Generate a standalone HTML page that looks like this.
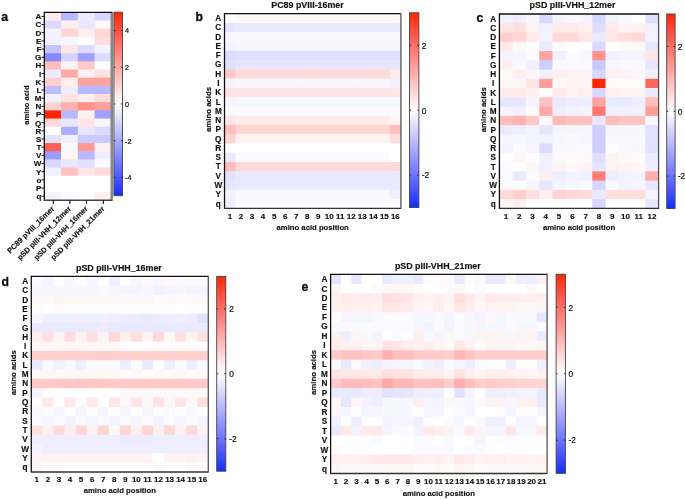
<!DOCTYPE html>
<html><head><meta charset="utf-8"><style>
html,body{margin:0;padding:0;background:#fff;}
body{width:685px;height:499px;overflow:hidden;}
svg{display:block;will-change:transform;filter:blur(0.3px);}
svg text{font-family:"Liberation Sans", sans-serif;fill:#111;stroke:#111;stroke-width:0.15px;}
</style></head><body>
<svg width="685" height="499" viewBox="0 0 685 499">
<rect x="0" y="0" width="685" height="499" fill="#fff"/>
<rect x="44.30" y="12.30" width="17.45" height="8.87" fill="#ffebeb"/>
<rect x="61.05" y="12.30" width="17.45" height="8.87" fill="#b8b8ff"/>
<rect x="77.80" y="12.30" width="17.45" height="8.87" fill="#ececff"/>
<rect x="94.55" y="12.30" width="16.75" height="8.87" fill="#d7d7ff"/>
<rect x="44.30" y="20.47" width="17.45" height="8.87" fill="#dcdbff"/>
<rect x="61.05" y="20.47" width="17.45" height="8.87" fill="#ffeeee"/>
<rect x="77.80" y="20.47" width="17.45" height="8.87" fill="#e8e7ff"/>
<rect x="94.55" y="20.47" width="16.75" height="8.87" fill="#fff8f8"/>
<rect x="44.30" y="28.65" width="17.45" height="8.87" fill="#f3f3ff"/>
<rect x="61.05" y="28.65" width="17.45" height="8.87" fill="#ffd5d5"/>
<rect x="77.80" y="28.65" width="17.45" height="8.87" fill="#ffeeee"/>
<rect x="94.55" y="28.65" width="16.75" height="8.87" fill="#ffd5d5"/>
<rect x="44.30" y="36.82" width="17.45" height="8.87" fill="#f1f1ff"/>
<rect x="61.05" y="36.82" width="17.45" height="8.87" fill="#f6f6ff"/>
<rect x="77.80" y="36.82" width="17.45" height="8.87" fill="#fffdfd"/>
<rect x="94.55" y="36.82" width="16.75" height="8.87" fill="#ffdddc"/>
<rect x="44.30" y="45.00" width="17.45" height="8.87" fill="#c4c4ff"/>
<rect x="61.05" y="45.00" width="17.45" height="8.87" fill="#ffe6e6"/>
<rect x="77.80" y="45.00" width="17.45" height="8.87" fill="#dcdbff"/>
<rect x="94.55" y="45.00" width="16.75" height="8.87" fill="#f1f1ff"/>
<rect x="44.30" y="53.17" width="17.45" height="8.87" fill="#8588ff"/>
<rect x="61.05" y="53.17" width="17.45" height="8.87" fill="#d5d4ff"/>
<rect x="77.80" y="53.17" width="17.45" height="8.87" fill="#9fa0ff"/>
<rect x="94.55" y="53.17" width="16.75" height="8.87" fill="#dcdbff"/>
<rect x="44.30" y="61.34" width="17.45" height="8.87" fill="#ffbdbb"/>
<rect x="61.05" y="61.34" width="17.45" height="8.87" fill="#fff3f3"/>
<rect x="77.80" y="61.34" width="17.45" height="8.87" fill="#ffc9c8"/>
<rect x="94.55" y="61.34" width="16.75" height="8.87" fill="#ffffff"/>
<rect x="44.30" y="69.52" width="17.45" height="8.87" fill="#ececff"/>
<rect x="61.05" y="69.52" width="17.45" height="8.87" fill="#ffa9a6"/>
<rect x="77.80" y="69.52" width="17.45" height="8.87" fill="#fff0f0"/>
<rect x="94.55" y="69.52" width="16.75" height="8.87" fill="#ffe2e1"/>
<rect x="44.30" y="77.69" width="17.45" height="8.87" fill="#ffcecd"/>
<rect x="61.05" y="77.69" width="17.45" height="8.87" fill="#ffeeee"/>
<rect x="77.80" y="77.69" width="17.45" height="8.87" fill="#ffa29e"/>
<rect x="94.55" y="77.69" width="16.75" height="8.87" fill="#ffa29e"/>
<rect x="44.30" y="85.87" width="17.45" height="8.87" fill="#bdbdff"/>
<rect x="61.05" y="85.87" width="17.45" height="8.87" fill="#efeeff"/>
<rect x="77.80" y="85.87" width="17.45" height="8.87" fill="#b8b8ff"/>
<rect x="94.55" y="85.87" width="16.75" height="8.87" fill="#b8b8ff"/>
<rect x="44.30" y="94.04" width="17.45" height="8.87" fill="#f3f3ff"/>
<rect x="61.05" y="94.04" width="17.45" height="8.87" fill="#ffe2e1"/>
<rect x="77.80" y="94.04" width="17.45" height="8.87" fill="#ffeeee"/>
<rect x="94.55" y="94.04" width="16.75" height="8.87" fill="#ffdada"/>
<rect x="44.30" y="102.21" width="17.45" height="8.87" fill="#ffd3d2"/>
<rect x="61.05" y="102.21" width="17.45" height="8.87" fill="#ffb1ae"/>
<rect x="77.80" y="102.21" width="17.45" height="8.87" fill="#ff918b"/>
<rect x="94.55" y="102.21" width="16.75" height="8.87" fill="#ff9d99"/>
<rect x="44.30" y="110.39" width="17.45" height="8.87" fill="#ff2600"/>
<rect x="61.05" y="110.39" width="17.45" height="8.87" fill="#b8b8ff"/>
<rect x="77.80" y="110.39" width="17.45" height="8.87" fill="#fff0f0"/>
<rect x="94.55" y="110.39" width="16.75" height="8.87" fill="#9fa0ff"/>
<rect x="44.30" y="118.56" width="17.45" height="8.87" fill="#ffdada"/>
<rect x="61.05" y="118.56" width="17.45" height="8.87" fill="#e8e7ff"/>
<rect x="77.80" y="118.56" width="17.45" height="8.87" fill="#ffe6e6"/>
<rect x="94.55" y="118.56" width="16.75" height="8.87" fill="#f6f6ff"/>
<rect x="44.30" y="126.73" width="17.45" height="8.87" fill="#ffffff"/>
<rect x="61.05" y="126.73" width="17.45" height="8.87" fill="#abacff"/>
<rect x="77.80" y="126.73" width="17.45" height="8.87" fill="#e8e7ff"/>
<rect x="94.55" y="126.73" width="16.75" height="8.87" fill="#dcdbff"/>
<rect x="44.30" y="134.91" width="17.45" height="8.87" fill="#e3e3ff"/>
<rect x="61.05" y="134.91" width="17.45" height="8.87" fill="#f1f1ff"/>
<rect x="77.80" y="134.91" width="17.45" height="8.87" fill="#cbcbff"/>
<rect x="94.55" y="134.91" width="16.75" height="8.87" fill="#cbcbff"/>
<rect x="44.30" y="143.08" width="17.45" height="8.87" fill="#ff6053"/>
<rect x="61.05" y="143.08" width="17.45" height="8.87" fill="#fafaff"/>
<rect x="77.80" y="143.08" width="17.45" height="8.87" fill="#ff9894"/>
<rect x="94.55" y="143.08" width="16.75" height="8.87" fill="#fff0f0"/>
<rect x="44.30" y="151.26" width="17.45" height="8.87" fill="#9a9bff"/>
<rect x="61.05" y="151.26" width="17.45" height="8.87" fill="#fff3f3"/>
<rect x="77.80" y="151.26" width="17.45" height="8.87" fill="#b8b8ff"/>
<rect x="94.55" y="151.26" width="16.75" height="8.87" fill="#efeeff"/>
<rect x="44.30" y="159.43" width="17.45" height="8.87" fill="#d7d7ff"/>
<rect x="61.05" y="159.43" width="17.45" height="8.87" fill="#e8e7ff"/>
<rect x="77.80" y="159.43" width="17.45" height="8.87" fill="#e1e0ff"/>
<rect x="94.55" y="159.43" width="16.75" height="8.87" fill="#fafaff"/>
<rect x="44.30" y="167.60" width="17.45" height="8.87" fill="#f1f1ff"/>
<rect x="61.05" y="167.60" width="17.45" height="8.87" fill="#ffc2c0"/>
<rect x="77.80" y="167.60" width="17.45" height="8.87" fill="#ffe6e6"/>
<rect x="94.55" y="167.60" width="16.75" height="8.87" fill="#ffdada"/>
<rect x="44.30" y="175.78" width="17.45" height="8.87" fill="#ffffff"/>
<rect x="61.05" y="175.78" width="17.45" height="8.87" fill="#ffffff"/>
<rect x="77.80" y="175.78" width="17.45" height="8.87" fill="#ffffff"/>
<rect x="94.55" y="175.78" width="16.75" height="8.87" fill="#ffffff"/>
<rect x="44.30" y="183.95" width="17.45" height="8.87" fill="#ffffff"/>
<rect x="61.05" y="183.95" width="17.45" height="8.87" fill="#ffffff"/>
<rect x="77.80" y="183.95" width="17.45" height="8.87" fill="#ffffff"/>
<rect x="94.55" y="183.95" width="16.75" height="8.87" fill="#ffffff"/>
<rect x="44.30" y="192.13" width="17.45" height="8.17" fill="#f3f3ff"/>
<rect x="61.05" y="192.13" width="17.45" height="8.17" fill="#fafaff"/>
<rect x="77.80" y="192.13" width="17.45" height="8.17" fill="#ffffff"/>
<rect x="94.55" y="192.13" width="16.75" height="8.17" fill="#ffeeee"/>
<rect x="110.5" y="11.80" width="2.5" height="189.20" fill="#888"/>
<line x1="44.30" y1="12.30" x2="112.00" y2="12.30" stroke="#111" stroke-width="1.3"/>
<line x1="44.30" y1="11.70" x2="44.30" y2="200.90" stroke="#111" stroke-width="1.3"/>
<line x1="112.00" y1="11.70" x2="112.00" y2="200.90" stroke="#888" stroke-width="0.01"/>
<line x1="44.30" y1="200.30" x2="112.00" y2="200.30" stroke="#444" stroke-width="1.40"/>
<line x1="41.50" y1="16.39" x2="44.30" y2="16.39" stroke="#111" stroke-width="1"/>
<text x="41.30" y="16.79" font-size="8" font-weight="bold" text-anchor="end" dominant-baseline="central">A</text>
<line x1="41.50" y1="24.56" x2="44.30" y2="24.56" stroke="#111" stroke-width="1"/>
<text x="41.30" y="24.96" font-size="8" font-weight="bold" text-anchor="end" dominant-baseline="central">C</text>
<line x1="41.50" y1="32.73" x2="44.30" y2="32.73" stroke="#111" stroke-width="1"/>
<text x="41.30" y="33.13" font-size="8" font-weight="bold" text-anchor="end" dominant-baseline="central">D</text>
<line x1="41.50" y1="40.91" x2="44.30" y2="40.91" stroke="#111" stroke-width="1"/>
<text x="41.30" y="41.31" font-size="8" font-weight="bold" text-anchor="end" dominant-baseline="central">E</text>
<line x1="41.50" y1="49.08" x2="44.30" y2="49.08" stroke="#111" stroke-width="1"/>
<text x="41.30" y="49.48" font-size="8" font-weight="bold" text-anchor="end" dominant-baseline="central">F</text>
<line x1="41.50" y1="57.26" x2="44.30" y2="57.26" stroke="#111" stroke-width="1"/>
<text x="41.30" y="57.66" font-size="8" font-weight="bold" text-anchor="end" dominant-baseline="central">G</text>
<line x1="41.50" y1="65.43" x2="44.30" y2="65.43" stroke="#111" stroke-width="1"/>
<text x="41.30" y="65.83" font-size="8" font-weight="bold" text-anchor="end" dominant-baseline="central">H</text>
<line x1="41.50" y1="73.60" x2="44.30" y2="73.60" stroke="#111" stroke-width="1"/>
<text x="41.30" y="74.00" font-size="8" font-weight="bold" text-anchor="end" dominant-baseline="central">I</text>
<line x1="41.50" y1="81.78" x2="44.30" y2="81.78" stroke="#111" stroke-width="1"/>
<text x="41.30" y="82.18" font-size="8" font-weight="bold" text-anchor="end" dominant-baseline="central">K</text>
<line x1="41.50" y1="89.95" x2="44.30" y2="89.95" stroke="#111" stroke-width="1"/>
<text x="41.30" y="90.35" font-size="8" font-weight="bold" text-anchor="end" dominant-baseline="central">L</text>
<line x1="41.50" y1="98.13" x2="44.30" y2="98.13" stroke="#111" stroke-width="1"/>
<text x="41.30" y="98.53" font-size="8" font-weight="bold" text-anchor="end" dominant-baseline="central">M</text>
<line x1="41.50" y1="106.30" x2="44.30" y2="106.30" stroke="#111" stroke-width="1"/>
<text x="41.30" y="106.70" font-size="8" font-weight="bold" text-anchor="end" dominant-baseline="central">N</text>
<line x1="41.50" y1="114.47" x2="44.30" y2="114.47" stroke="#111" stroke-width="1"/>
<text x="41.30" y="114.87" font-size="8" font-weight="bold" text-anchor="end" dominant-baseline="central">P</text>
<line x1="41.50" y1="122.65" x2="44.30" y2="122.65" stroke="#111" stroke-width="1"/>
<text x="41.30" y="123.05" font-size="8" font-weight="bold" text-anchor="end" dominant-baseline="central">Q</text>
<line x1="41.50" y1="130.82" x2="44.30" y2="130.82" stroke="#111" stroke-width="1"/>
<text x="41.30" y="131.22" font-size="8" font-weight="bold" text-anchor="end" dominant-baseline="central">R</text>
<line x1="41.50" y1="139.00" x2="44.30" y2="139.00" stroke="#111" stroke-width="1"/>
<text x="41.30" y="139.40" font-size="8" font-weight="bold" text-anchor="end" dominant-baseline="central">S</text>
<line x1="41.50" y1="147.17" x2="44.30" y2="147.17" stroke="#111" stroke-width="1"/>
<text x="41.30" y="147.57" font-size="8" font-weight="bold" text-anchor="end" dominant-baseline="central">T</text>
<line x1="41.50" y1="155.34" x2="44.30" y2="155.34" stroke="#111" stroke-width="1"/>
<text x="41.30" y="155.74" font-size="8" font-weight="bold" text-anchor="end" dominant-baseline="central">V</text>
<line x1="41.50" y1="163.52" x2="44.30" y2="163.52" stroke="#111" stroke-width="1"/>
<text x="41.30" y="163.92" font-size="8" font-weight="bold" text-anchor="end" dominant-baseline="central">W</text>
<line x1="41.50" y1="171.69" x2="44.30" y2="171.69" stroke="#111" stroke-width="1"/>
<text x="41.30" y="172.09" font-size="8" font-weight="bold" text-anchor="end" dominant-baseline="central">Y</text>
<line x1="41.50" y1="179.87" x2="44.30" y2="179.87" stroke="#111" stroke-width="1"/>
<text x="41.30" y="180.27" font-size="8" font-weight="bold" text-anchor="end" dominant-baseline="central">o</text>
<line x1="41.50" y1="188.04" x2="44.30" y2="188.04" stroke="#111" stroke-width="1"/>
<text x="41.30" y="188.44" font-size="8" font-weight="bold" text-anchor="end" dominant-baseline="central">P</text>
<line x1="41.50" y1="196.21" x2="44.30" y2="196.21" stroke="#111" stroke-width="1"/>
<text x="41.30" y="196.61" font-size="8" font-weight="bold" text-anchor="end" dominant-baseline="central">q</text>
<line x1="53.30" y1="200.30" x2="53.30" y2="203.90" stroke="#111" stroke-width="1.15"/>
<line x1="69.90" y1="200.30" x2="69.90" y2="203.90" stroke="#111" stroke-width="1.15"/>
<line x1="86.50" y1="200.30" x2="86.50" y2="203.90" stroke="#111" stroke-width="1.15"/>
<line x1="103.40" y1="200.30" x2="103.40" y2="203.90" stroke="#111" stroke-width="1.15"/>
<text transform="translate(52.97,207.50) rotate(-45)" font-size="7.5" font-weight="bold" text-anchor="end" dominant-baseline="central">PC89 pVIII_16mer</text>
<text transform="translate(69.72,207.50) rotate(-45)" font-size="7.5" font-weight="bold" text-anchor="end" dominant-baseline="central">pSD pIII-VHH_12mer</text>
<text transform="translate(86.47,207.50) rotate(-45)" font-size="7.5" font-weight="bold" text-anchor="end" dominant-baseline="central">pSD pIII-VHH_16mer</text>
<text transform="translate(103.22,207.50) rotate(-45)" font-size="7.5" font-weight="bold" text-anchor="end" dominant-baseline="central">pSD pIII-VHH_21mer</text>
<text transform="translate(26.1,105.1) rotate(-90)" font-size="7.5" font-weight="bold" text-anchor="middle" dominant-baseline="central">amino acid</text>
<defs><linearGradient id="ga" x1="0" y1="0" x2="0" y2="1">
<stop offset="0.000" stop-color="#ff2600"/>
<stop offset="0.050" stop-color="#ff3c24"/>
<stop offset="0.100" stop-color="#ff5141"/>
<stop offset="0.150" stop-color="#ff675c"/>
<stop offset="0.200" stop-color="#ff7d75"/>
<stop offset="0.250" stop-color="#ff928d"/>
<stop offset="0.300" stop-color="#ffa8a5"/>
<stop offset="0.350" stop-color="#ffbebc"/>
<stop offset="0.400" stop-color="#ffd4d3"/>
<stop offset="0.450" stop-color="#ffe9e9"/>
<stop offset="0.500" stop-color="#ffffff"/>
<stop offset="0.550" stop-color="#eaeaff"/>
<stop offset="0.600" stop-color="#d6d5ff"/>
<stop offset="0.650" stop-color="#c0c0ff"/>
<stop offset="0.700" stop-color="#aaabff"/>
<stop offset="0.750" stop-color="#9496ff"/>
<stop offset="0.800" stop-color="#7d81ff"/>
<stop offset="0.850" stop-color="#656cff"/>
<stop offset="0.900" stop-color="#4c57ff"/>
<stop offset="0.950" stop-color="#3142ff"/>
<stop offset="1.000" stop-color="#0f2dff"/>
</linearGradient></defs>
<rect x="113.90" y="12.20" width="8.60" height="183.50" fill="url(#ga)" stroke="#444" stroke-width="0.9"/>
<line x1="113.90" y1="30.55" x2="115.50" y2="30.55" stroke="#222" stroke-width="0.9"/>
<line x1="120.90" y1="30.55" x2="122.50" y2="30.55" stroke="#222" stroke-width="0.9"/>
<text x="125.10" y="30.90" font-size="7.20" dominant-baseline="central" style="stroke-width:0.22px">4</text>
<line x1="113.90" y1="67.25" x2="115.50" y2="67.25" stroke="#222" stroke-width="0.9"/>
<line x1="120.90" y1="67.25" x2="122.50" y2="67.25" stroke="#222" stroke-width="0.9"/>
<text x="125.10" y="67.60" font-size="7.20" dominant-baseline="central" style="stroke-width:0.22px">2</text>
<line x1="113.90" y1="103.95" x2="115.50" y2="103.95" stroke="#222" stroke-width="0.9"/>
<line x1="120.90" y1="103.95" x2="122.50" y2="103.95" stroke="#222" stroke-width="0.9"/>
<text x="125.10" y="104.30" font-size="7.20" dominant-baseline="central" style="stroke-width:0.22px">0</text>
<line x1="113.90" y1="140.65" x2="115.50" y2="140.65" stroke="#222" stroke-width="0.9"/>
<line x1="120.90" y1="140.65" x2="122.50" y2="140.65" stroke="#222" stroke-width="0.9"/>
<text x="125.10" y="141.00" font-size="7.20" dominant-baseline="central" style="stroke-width:0.22px">-2</text>
<line x1="113.90" y1="177.35" x2="115.50" y2="177.35" stroke="#222" stroke-width="0.9"/>
<line x1="120.90" y1="177.35" x2="122.50" y2="177.35" stroke="#222" stroke-width="0.9"/>
<text x="125.10" y="177.70" font-size="7.20" dominant-baseline="central" style="stroke-width:0.22px">-4</text>
<text x="1.2" y="20.8" font-size="12.2" font-weight="bold" style="stroke-width:0.35px">a</text>
<rect x="224.50" y="13.60" width="11.72" height="9.97" fill="#ffffff"/>
<rect x="235.53" y="13.60" width="11.72" height="9.97" fill="#fff8f8"/>
<rect x="246.55" y="13.60" width="11.72" height="9.97" fill="#fff8f8"/>
<rect x="257.57" y="13.60" width="11.72" height="9.97" fill="#fff8f8"/>
<rect x="268.60" y="13.60" width="11.72" height="9.97" fill="#fff8f8"/>
<rect x="279.62" y="13.60" width="11.72" height="9.97" fill="#fff8f8"/>
<rect x="290.65" y="13.60" width="11.72" height="9.97" fill="#fff8f8"/>
<rect x="301.67" y="13.60" width="11.72" height="9.97" fill="#fff8f8"/>
<rect x="312.70" y="13.60" width="11.72" height="9.97" fill="#fff8f8"/>
<rect x="323.73" y="13.60" width="11.72" height="9.97" fill="#fff8f8"/>
<rect x="334.75" y="13.60" width="11.72" height="9.97" fill="#fff8f8"/>
<rect x="345.77" y="13.60" width="11.72" height="9.97" fill="#fff8f8"/>
<rect x="356.80" y="13.60" width="11.72" height="9.97" fill="#fff8f8"/>
<rect x="367.82" y="13.60" width="11.72" height="9.97" fill="#fff8f8"/>
<rect x="378.85" y="13.60" width="11.72" height="9.97" fill="#fff8f8"/>
<rect x="389.88" y="13.60" width="11.02" height="9.97" fill="#fff6f6"/>
<rect x="224.50" y="22.87" width="11.72" height="9.97" fill="#e4e4ff"/>
<rect x="235.53" y="22.87" width="11.72" height="9.97" fill="#eaeaff"/>
<rect x="246.55" y="22.87" width="11.72" height="9.97" fill="#eaeaff"/>
<rect x="257.57" y="22.87" width="11.72" height="9.97" fill="#eaeaff"/>
<rect x="268.60" y="22.87" width="11.72" height="9.97" fill="#eaeaff"/>
<rect x="279.62" y="22.87" width="11.72" height="9.97" fill="#eaeaff"/>
<rect x="290.65" y="22.87" width="11.72" height="9.97" fill="#eaeaff"/>
<rect x="301.67" y="22.87" width="11.72" height="9.97" fill="#eaeaff"/>
<rect x="312.70" y="22.87" width="11.72" height="9.97" fill="#eaeaff"/>
<rect x="323.73" y="22.87" width="11.72" height="9.97" fill="#eaeaff"/>
<rect x="334.75" y="22.87" width="11.72" height="9.97" fill="#eaeaff"/>
<rect x="345.77" y="22.87" width="11.72" height="9.97" fill="#eaeaff"/>
<rect x="356.80" y="22.87" width="11.72" height="9.97" fill="#eaeaff"/>
<rect x="367.82" y="22.87" width="11.72" height="9.97" fill="#eaeaff"/>
<rect x="378.85" y="22.87" width="11.72" height="9.97" fill="#eaeaff"/>
<rect x="389.88" y="22.87" width="11.02" height="9.97" fill="#eaeaff"/>
<rect x="224.50" y="32.14" width="11.72" height="9.97" fill="#f7f7ff"/>
<rect x="235.53" y="32.14" width="11.72" height="9.97" fill="#f9f9ff"/>
<rect x="246.55" y="32.14" width="11.72" height="9.97" fill="#f9f9ff"/>
<rect x="257.57" y="32.14" width="11.72" height="9.97" fill="#f9f9ff"/>
<rect x="268.60" y="32.14" width="11.72" height="9.97" fill="#f9f9ff"/>
<rect x="279.62" y="32.14" width="11.72" height="9.97" fill="#f9f9ff"/>
<rect x="290.65" y="32.14" width="11.72" height="9.97" fill="#f9f9ff"/>
<rect x="301.67" y="32.14" width="11.72" height="9.97" fill="#f9f9ff"/>
<rect x="312.70" y="32.14" width="11.72" height="9.97" fill="#f9f9ff"/>
<rect x="323.73" y="32.14" width="11.72" height="9.97" fill="#f9f9ff"/>
<rect x="334.75" y="32.14" width="11.72" height="9.97" fill="#f9f9ff"/>
<rect x="345.77" y="32.14" width="11.72" height="9.97" fill="#f9f9ff"/>
<rect x="356.80" y="32.14" width="11.72" height="9.97" fill="#f9f9ff"/>
<rect x="367.82" y="32.14" width="11.72" height="9.97" fill="#f9f9ff"/>
<rect x="378.85" y="32.14" width="11.72" height="9.97" fill="#f9f9ff"/>
<rect x="389.88" y="32.14" width="11.02" height="9.97" fill="#f9f9ff"/>
<rect x="224.50" y="41.41" width="11.72" height="9.97" fill="#f3f2ff"/>
<rect x="235.53" y="41.41" width="11.72" height="9.97" fill="#f7f7ff"/>
<rect x="246.55" y="41.41" width="11.72" height="9.97" fill="#f7f7ff"/>
<rect x="257.57" y="41.41" width="11.72" height="9.97" fill="#f7f7ff"/>
<rect x="268.60" y="41.41" width="11.72" height="9.97" fill="#f7f7ff"/>
<rect x="279.62" y="41.41" width="11.72" height="9.97" fill="#f7f7ff"/>
<rect x="290.65" y="41.41" width="11.72" height="9.97" fill="#f7f7ff"/>
<rect x="301.67" y="41.41" width="11.72" height="9.97" fill="#f7f7ff"/>
<rect x="312.70" y="41.41" width="11.72" height="9.97" fill="#f7f7ff"/>
<rect x="323.73" y="41.41" width="11.72" height="9.97" fill="#f7f7ff"/>
<rect x="334.75" y="41.41" width="11.72" height="9.97" fill="#f7f7ff"/>
<rect x="345.77" y="41.41" width="11.72" height="9.97" fill="#f7f7ff"/>
<rect x="356.80" y="41.41" width="11.72" height="9.97" fill="#f7f7ff"/>
<rect x="367.82" y="41.41" width="11.72" height="9.97" fill="#f7f7ff"/>
<rect x="378.85" y="41.41" width="11.72" height="9.97" fill="#f7f7ff"/>
<rect x="389.88" y="41.41" width="11.02" height="9.97" fill="#f7f7ff"/>
<rect x="224.50" y="50.69" width="11.72" height="9.97" fill="#dcdbff"/>
<rect x="235.53" y="50.69" width="11.72" height="9.97" fill="#e0e0ff"/>
<rect x="246.55" y="50.69" width="11.72" height="9.97" fill="#e0e0ff"/>
<rect x="257.57" y="50.69" width="11.72" height="9.97" fill="#e0e0ff"/>
<rect x="268.60" y="50.69" width="11.72" height="9.97" fill="#e0e0ff"/>
<rect x="279.62" y="50.69" width="11.72" height="9.97" fill="#e0e0ff"/>
<rect x="290.65" y="50.69" width="11.72" height="9.97" fill="#e0e0ff"/>
<rect x="301.67" y="50.69" width="11.72" height="9.97" fill="#e0e0ff"/>
<rect x="312.70" y="50.69" width="11.72" height="9.97" fill="#e0e0ff"/>
<rect x="323.73" y="50.69" width="11.72" height="9.97" fill="#e0e0ff"/>
<rect x="334.75" y="50.69" width="11.72" height="9.97" fill="#e0e0ff"/>
<rect x="345.77" y="50.69" width="11.72" height="9.97" fill="#e0e0ff"/>
<rect x="356.80" y="50.69" width="11.72" height="9.97" fill="#e0e0ff"/>
<rect x="367.82" y="50.69" width="11.72" height="9.97" fill="#e0e0ff"/>
<rect x="378.85" y="50.69" width="11.72" height="9.97" fill="#e0e0ff"/>
<rect x="389.88" y="50.69" width="11.02" height="9.97" fill="#e0e0ff"/>
<rect x="224.50" y="59.96" width="11.72" height="9.97" fill="#e0e0ff"/>
<rect x="235.53" y="59.96" width="11.72" height="9.97" fill="#e6e6ff"/>
<rect x="246.55" y="59.96" width="11.72" height="9.97" fill="#e6e6ff"/>
<rect x="257.57" y="59.96" width="11.72" height="9.97" fill="#e6e6ff"/>
<rect x="268.60" y="59.96" width="11.72" height="9.97" fill="#e6e6ff"/>
<rect x="279.62" y="59.96" width="11.72" height="9.97" fill="#e6e6ff"/>
<rect x="290.65" y="59.96" width="11.72" height="9.97" fill="#e6e6ff"/>
<rect x="301.67" y="59.96" width="11.72" height="9.97" fill="#e6e6ff"/>
<rect x="312.70" y="59.96" width="11.72" height="9.97" fill="#e6e6ff"/>
<rect x="323.73" y="59.96" width="11.72" height="9.97" fill="#e6e6ff"/>
<rect x="334.75" y="59.96" width="11.72" height="9.97" fill="#e6e6ff"/>
<rect x="345.77" y="59.96" width="11.72" height="9.97" fill="#e6e6ff"/>
<rect x="356.80" y="59.96" width="11.72" height="9.97" fill="#e6e6ff"/>
<rect x="367.82" y="59.96" width="11.72" height="9.97" fill="#e6e6ff"/>
<rect x="378.85" y="59.96" width="11.72" height="9.97" fill="#e6e6ff"/>
<rect x="389.88" y="59.96" width="11.02" height="9.97" fill="#e6e6ff"/>
<rect x="224.50" y="69.23" width="11.72" height="9.97" fill="#ffcbca"/>
<rect x="235.53" y="69.23" width="11.72" height="9.97" fill="#ffdada"/>
<rect x="246.55" y="69.23" width="11.72" height="9.97" fill="#ffdada"/>
<rect x="257.57" y="69.23" width="11.72" height="9.97" fill="#ffdada"/>
<rect x="268.60" y="69.23" width="11.72" height="9.97" fill="#ffdada"/>
<rect x="279.62" y="69.23" width="11.72" height="9.97" fill="#ffdada"/>
<rect x="290.65" y="69.23" width="11.72" height="9.97" fill="#ffdada"/>
<rect x="301.67" y="69.23" width="11.72" height="9.97" fill="#ffdada"/>
<rect x="312.70" y="69.23" width="11.72" height="9.97" fill="#ffdada"/>
<rect x="323.73" y="69.23" width="11.72" height="9.97" fill="#ffdada"/>
<rect x="334.75" y="69.23" width="11.72" height="9.97" fill="#ffdada"/>
<rect x="345.77" y="69.23" width="11.72" height="9.97" fill="#ffdada"/>
<rect x="356.80" y="69.23" width="11.72" height="9.97" fill="#ffdada"/>
<rect x="367.82" y="69.23" width="11.72" height="9.97" fill="#ffdada"/>
<rect x="378.85" y="69.23" width="11.72" height="9.97" fill="#ffdada"/>
<rect x="389.88" y="69.23" width="11.02" height="9.97" fill="#ffebeb"/>
<rect x="224.50" y="78.50" width="11.72" height="9.97" fill="#f5f4ff"/>
<rect x="235.53" y="78.50" width="11.72" height="9.97" fill="#f7f7ff"/>
<rect x="246.55" y="78.50" width="11.72" height="9.97" fill="#f7f7ff"/>
<rect x="257.57" y="78.50" width="11.72" height="9.97" fill="#f7f7ff"/>
<rect x="268.60" y="78.50" width="11.72" height="9.97" fill="#f7f7ff"/>
<rect x="279.62" y="78.50" width="11.72" height="9.97" fill="#f7f7ff"/>
<rect x="290.65" y="78.50" width="11.72" height="9.97" fill="#f7f7ff"/>
<rect x="301.67" y="78.50" width="11.72" height="9.97" fill="#f7f7ff"/>
<rect x="312.70" y="78.50" width="11.72" height="9.97" fill="#f7f7ff"/>
<rect x="323.73" y="78.50" width="11.72" height="9.97" fill="#f7f7ff"/>
<rect x="334.75" y="78.50" width="11.72" height="9.97" fill="#f7f7ff"/>
<rect x="345.77" y="78.50" width="11.72" height="9.97" fill="#f7f7ff"/>
<rect x="356.80" y="78.50" width="11.72" height="9.97" fill="#f7f7ff"/>
<rect x="367.82" y="78.50" width="11.72" height="9.97" fill="#f7f7ff"/>
<rect x="378.85" y="78.50" width="11.72" height="9.97" fill="#f7f7ff"/>
<rect x="389.88" y="78.50" width="11.02" height="9.97" fill="#f1f0ff"/>
<rect x="224.50" y="87.77" width="11.72" height="9.97" fill="#ffe3e3"/>
<rect x="235.53" y="87.77" width="11.72" height="9.97" fill="#ffe5e5"/>
<rect x="246.55" y="87.77" width="11.72" height="9.97" fill="#ffe5e5"/>
<rect x="257.57" y="87.77" width="11.72" height="9.97" fill="#ffe5e5"/>
<rect x="268.60" y="87.77" width="11.72" height="9.97" fill="#ffe5e5"/>
<rect x="279.62" y="87.77" width="11.72" height="9.97" fill="#ffe5e5"/>
<rect x="290.65" y="87.77" width="11.72" height="9.97" fill="#ffe5e5"/>
<rect x="301.67" y="87.77" width="11.72" height="9.97" fill="#ffe5e5"/>
<rect x="312.70" y="87.77" width="11.72" height="9.97" fill="#ffe5e5"/>
<rect x="323.73" y="87.77" width="11.72" height="9.97" fill="#ffe5e5"/>
<rect x="334.75" y="87.77" width="11.72" height="9.97" fill="#ffe5e5"/>
<rect x="345.77" y="87.77" width="11.72" height="9.97" fill="#ffe5e5"/>
<rect x="356.80" y="87.77" width="11.72" height="9.97" fill="#ffe5e5"/>
<rect x="367.82" y="87.77" width="11.72" height="9.97" fill="#ffe5e5"/>
<rect x="378.85" y="87.77" width="11.72" height="9.97" fill="#ffe5e5"/>
<rect x="389.88" y="87.77" width="11.02" height="9.97" fill="#ffe5e5"/>
<rect x="224.50" y="97.04" width="11.72" height="9.97" fill="#f5f4ff"/>
<rect x="235.53" y="97.04" width="11.72" height="9.97" fill="#f7f7ff"/>
<rect x="246.55" y="97.04" width="11.72" height="9.97" fill="#f7f7ff"/>
<rect x="257.57" y="97.04" width="11.72" height="9.97" fill="#f7f7ff"/>
<rect x="268.60" y="97.04" width="11.72" height="9.97" fill="#f7f7ff"/>
<rect x="279.62" y="97.04" width="11.72" height="9.97" fill="#f7f7ff"/>
<rect x="290.65" y="97.04" width="11.72" height="9.97" fill="#f7f7ff"/>
<rect x="301.67" y="97.04" width="11.72" height="9.97" fill="#f7f7ff"/>
<rect x="312.70" y="97.04" width="11.72" height="9.97" fill="#f7f7ff"/>
<rect x="323.73" y="97.04" width="11.72" height="9.97" fill="#f7f7ff"/>
<rect x="334.75" y="97.04" width="11.72" height="9.97" fill="#f7f7ff"/>
<rect x="345.77" y="97.04" width="11.72" height="9.97" fill="#f7f7ff"/>
<rect x="356.80" y="97.04" width="11.72" height="9.97" fill="#f7f7ff"/>
<rect x="367.82" y="97.04" width="11.72" height="9.97" fill="#f7f7ff"/>
<rect x="378.85" y="97.04" width="11.72" height="9.97" fill="#f7f7ff"/>
<rect x="389.88" y="97.04" width="11.02" height="9.97" fill="#f7f7ff"/>
<rect x="224.50" y="106.31" width="11.72" height="9.97" fill="#fbfbff"/>
<rect x="235.53" y="106.31" width="11.72" height="9.97" fill="#fbfbff"/>
<rect x="246.55" y="106.31" width="11.72" height="9.97" fill="#fbfbff"/>
<rect x="257.57" y="106.31" width="11.72" height="9.97" fill="#fbfbff"/>
<rect x="268.60" y="106.31" width="11.72" height="9.97" fill="#fbfbff"/>
<rect x="279.62" y="106.31" width="11.72" height="9.97" fill="#fbfbff"/>
<rect x="290.65" y="106.31" width="11.72" height="9.97" fill="#fbfbff"/>
<rect x="301.67" y="106.31" width="11.72" height="9.97" fill="#fbfbff"/>
<rect x="312.70" y="106.31" width="11.72" height="9.97" fill="#fbfbff"/>
<rect x="323.73" y="106.31" width="11.72" height="9.97" fill="#fbfbff"/>
<rect x="334.75" y="106.31" width="11.72" height="9.97" fill="#fbfbff"/>
<rect x="345.77" y="106.31" width="11.72" height="9.97" fill="#fbfbff"/>
<rect x="356.80" y="106.31" width="11.72" height="9.97" fill="#fbfbff"/>
<rect x="367.82" y="106.31" width="11.72" height="9.97" fill="#fbfbff"/>
<rect x="378.85" y="106.31" width="11.72" height="9.97" fill="#fbfbff"/>
<rect x="389.88" y="106.31" width="11.02" height="9.97" fill="#fbfbff"/>
<rect x="224.50" y="115.59" width="11.72" height="9.97" fill="#ffe7e7"/>
<rect x="235.53" y="115.59" width="11.72" height="9.97" fill="#ffebeb"/>
<rect x="246.55" y="115.59" width="11.72" height="9.97" fill="#ffebeb"/>
<rect x="257.57" y="115.59" width="11.72" height="9.97" fill="#ffebeb"/>
<rect x="268.60" y="115.59" width="11.72" height="9.97" fill="#ffebeb"/>
<rect x="279.62" y="115.59" width="11.72" height="9.97" fill="#ffebeb"/>
<rect x="290.65" y="115.59" width="11.72" height="9.97" fill="#ffebeb"/>
<rect x="301.67" y="115.59" width="11.72" height="9.97" fill="#ffebeb"/>
<rect x="312.70" y="115.59" width="11.72" height="9.97" fill="#ffebeb"/>
<rect x="323.73" y="115.59" width="11.72" height="9.97" fill="#ffebeb"/>
<rect x="334.75" y="115.59" width="11.72" height="9.97" fill="#ffebeb"/>
<rect x="345.77" y="115.59" width="11.72" height="9.97" fill="#ffebeb"/>
<rect x="356.80" y="115.59" width="11.72" height="9.97" fill="#ffebeb"/>
<rect x="367.82" y="115.59" width="11.72" height="9.97" fill="#ffebeb"/>
<rect x="378.85" y="115.59" width="11.72" height="9.97" fill="#ffebeb"/>
<rect x="389.88" y="115.59" width="11.02" height="9.97" fill="#fff4f4"/>
<rect x="224.50" y="124.86" width="11.72" height="9.97" fill="#ffbebc"/>
<rect x="235.53" y="124.86" width="11.72" height="9.97" fill="#ffd4d3"/>
<rect x="246.55" y="124.86" width="11.72" height="9.97" fill="#ffd4d3"/>
<rect x="257.57" y="124.86" width="11.72" height="9.97" fill="#ffd4d3"/>
<rect x="268.60" y="124.86" width="11.72" height="9.97" fill="#ffd4d3"/>
<rect x="279.62" y="124.86" width="11.72" height="9.97" fill="#ffd4d3"/>
<rect x="290.65" y="124.86" width="11.72" height="9.97" fill="#ffd4d3"/>
<rect x="301.67" y="124.86" width="11.72" height="9.97" fill="#ffd4d3"/>
<rect x="312.70" y="124.86" width="11.72" height="9.97" fill="#ffd4d3"/>
<rect x="323.73" y="124.86" width="11.72" height="9.97" fill="#ffd4d3"/>
<rect x="334.75" y="124.86" width="11.72" height="9.97" fill="#ffd4d3"/>
<rect x="345.77" y="124.86" width="11.72" height="9.97" fill="#ffd4d3"/>
<rect x="356.80" y="124.86" width="11.72" height="9.97" fill="#ffd4d3"/>
<rect x="367.82" y="124.86" width="11.72" height="9.97" fill="#ffd4d3"/>
<rect x="378.85" y="124.86" width="11.72" height="9.97" fill="#ffd4d3"/>
<rect x="389.88" y="124.86" width="11.02" height="9.97" fill="#ffbebc"/>
<rect x="224.50" y="134.13" width="11.72" height="9.97" fill="#ffd4d3"/>
<rect x="235.53" y="134.13" width="11.72" height="9.97" fill="#fff2f2"/>
<rect x="246.55" y="134.13" width="11.72" height="9.97" fill="#fff2f2"/>
<rect x="257.57" y="134.13" width="11.72" height="9.97" fill="#fff2f2"/>
<rect x="268.60" y="134.13" width="11.72" height="9.97" fill="#fff2f2"/>
<rect x="279.62" y="134.13" width="11.72" height="9.97" fill="#fff2f2"/>
<rect x="290.65" y="134.13" width="11.72" height="9.97" fill="#fff2f2"/>
<rect x="301.67" y="134.13" width="11.72" height="9.97" fill="#fff2f2"/>
<rect x="312.70" y="134.13" width="11.72" height="9.97" fill="#fff2f2"/>
<rect x="323.73" y="134.13" width="11.72" height="9.97" fill="#fff2f2"/>
<rect x="334.75" y="134.13" width="11.72" height="9.97" fill="#fff2f2"/>
<rect x="345.77" y="134.13" width="11.72" height="9.97" fill="#fff2f2"/>
<rect x="356.80" y="134.13" width="11.72" height="9.97" fill="#fff2f2"/>
<rect x="367.82" y="134.13" width="11.72" height="9.97" fill="#fff2f2"/>
<rect x="378.85" y="134.13" width="11.72" height="9.97" fill="#fff2f2"/>
<rect x="389.88" y="134.13" width="11.02" height="9.97" fill="#ffdede"/>
<rect x="224.50" y="143.40" width="11.72" height="9.97" fill="#ffffff"/>
<rect x="235.53" y="143.40" width="11.72" height="9.97" fill="#ffffff"/>
<rect x="246.55" y="143.40" width="11.72" height="9.97" fill="#ffffff"/>
<rect x="257.57" y="143.40" width="11.72" height="9.97" fill="#ffffff"/>
<rect x="268.60" y="143.40" width="11.72" height="9.97" fill="#ffffff"/>
<rect x="279.62" y="143.40" width="11.72" height="9.97" fill="#ffffff"/>
<rect x="290.65" y="143.40" width="11.72" height="9.97" fill="#ffffff"/>
<rect x="301.67" y="143.40" width="11.72" height="9.97" fill="#ffffff"/>
<rect x="312.70" y="143.40" width="11.72" height="9.97" fill="#ffffff"/>
<rect x="323.73" y="143.40" width="11.72" height="9.97" fill="#ffffff"/>
<rect x="334.75" y="143.40" width="11.72" height="9.97" fill="#ffffff"/>
<rect x="345.77" y="143.40" width="11.72" height="9.97" fill="#ffffff"/>
<rect x="356.80" y="143.40" width="11.72" height="9.97" fill="#ffffff"/>
<rect x="367.82" y="143.40" width="11.72" height="9.97" fill="#ffffff"/>
<rect x="378.85" y="143.40" width="11.72" height="9.97" fill="#ffffff"/>
<rect x="389.88" y="143.40" width="11.02" height="9.97" fill="#ffffff"/>
<rect x="224.50" y="152.67" width="11.72" height="9.97" fill="#eaeaff"/>
<rect x="235.53" y="152.67" width="11.72" height="9.97" fill="#fbfbff"/>
<rect x="246.55" y="152.67" width="11.72" height="9.97" fill="#fbfbff"/>
<rect x="257.57" y="152.67" width="11.72" height="9.97" fill="#fbfbff"/>
<rect x="268.60" y="152.67" width="11.72" height="9.97" fill="#fbfbff"/>
<rect x="279.62" y="152.67" width="11.72" height="9.97" fill="#fbfbff"/>
<rect x="290.65" y="152.67" width="11.72" height="9.97" fill="#fbfbff"/>
<rect x="301.67" y="152.67" width="11.72" height="9.97" fill="#fbfbff"/>
<rect x="312.70" y="152.67" width="11.72" height="9.97" fill="#fbfbff"/>
<rect x="323.73" y="152.67" width="11.72" height="9.97" fill="#fbfbff"/>
<rect x="334.75" y="152.67" width="11.72" height="9.97" fill="#fbfbff"/>
<rect x="345.77" y="152.67" width="11.72" height="9.97" fill="#fbfbff"/>
<rect x="356.80" y="152.67" width="11.72" height="9.97" fill="#fbfbff"/>
<rect x="367.82" y="152.67" width="11.72" height="9.97" fill="#fbfbff"/>
<rect x="378.85" y="152.67" width="11.72" height="9.97" fill="#fbfbff"/>
<rect x="389.88" y="152.67" width="11.02" height="9.97" fill="#ffffff"/>
<rect x="224.50" y="161.94" width="11.72" height="9.97" fill="#ffbebc"/>
<rect x="235.53" y="161.94" width="11.72" height="9.97" fill="#ffdada"/>
<rect x="246.55" y="161.94" width="11.72" height="9.97" fill="#ffdada"/>
<rect x="257.57" y="161.94" width="11.72" height="9.97" fill="#ffdada"/>
<rect x="268.60" y="161.94" width="11.72" height="9.97" fill="#ffdada"/>
<rect x="279.62" y="161.94" width="11.72" height="9.97" fill="#ffdada"/>
<rect x="290.65" y="161.94" width="11.72" height="9.97" fill="#ffdada"/>
<rect x="301.67" y="161.94" width="11.72" height="9.97" fill="#ffdada"/>
<rect x="312.70" y="161.94" width="11.72" height="9.97" fill="#ffdada"/>
<rect x="323.73" y="161.94" width="11.72" height="9.97" fill="#ffdada"/>
<rect x="334.75" y="161.94" width="11.72" height="9.97" fill="#ffdada"/>
<rect x="345.77" y="161.94" width="11.72" height="9.97" fill="#ffdada"/>
<rect x="356.80" y="161.94" width="11.72" height="9.97" fill="#ffdada"/>
<rect x="367.82" y="161.94" width="11.72" height="9.97" fill="#ffdada"/>
<rect x="378.85" y="161.94" width="11.72" height="9.97" fill="#ffdada"/>
<rect x="389.88" y="161.94" width="11.02" height="9.97" fill="#ffd8d7"/>
<rect x="224.50" y="171.21" width="11.72" height="9.97" fill="#e2e2ff"/>
<rect x="235.53" y="171.21" width="11.72" height="9.97" fill="#eaeaff"/>
<rect x="246.55" y="171.21" width="11.72" height="9.97" fill="#eaeaff"/>
<rect x="257.57" y="171.21" width="11.72" height="9.97" fill="#eaeaff"/>
<rect x="268.60" y="171.21" width="11.72" height="9.97" fill="#eaeaff"/>
<rect x="279.62" y="171.21" width="11.72" height="9.97" fill="#eaeaff"/>
<rect x="290.65" y="171.21" width="11.72" height="9.97" fill="#eaeaff"/>
<rect x="301.67" y="171.21" width="11.72" height="9.97" fill="#eaeaff"/>
<rect x="312.70" y="171.21" width="11.72" height="9.97" fill="#eaeaff"/>
<rect x="323.73" y="171.21" width="11.72" height="9.97" fill="#eaeaff"/>
<rect x="334.75" y="171.21" width="11.72" height="9.97" fill="#eaeaff"/>
<rect x="345.77" y="171.21" width="11.72" height="9.97" fill="#eaeaff"/>
<rect x="356.80" y="171.21" width="11.72" height="9.97" fill="#eaeaff"/>
<rect x="367.82" y="171.21" width="11.72" height="9.97" fill="#eaeaff"/>
<rect x="378.85" y="171.21" width="11.72" height="9.97" fill="#eaeaff"/>
<rect x="389.88" y="171.21" width="11.02" height="9.97" fill="#eaeaff"/>
<rect x="224.50" y="180.49" width="11.72" height="9.97" fill="#e6e6ff"/>
<rect x="235.53" y="180.49" width="11.72" height="9.97" fill="#eaeaff"/>
<rect x="246.55" y="180.49" width="11.72" height="9.97" fill="#eaeaff"/>
<rect x="257.57" y="180.49" width="11.72" height="9.97" fill="#eaeaff"/>
<rect x="268.60" y="180.49" width="11.72" height="9.97" fill="#eaeaff"/>
<rect x="279.62" y="180.49" width="11.72" height="9.97" fill="#eaeaff"/>
<rect x="290.65" y="180.49" width="11.72" height="9.97" fill="#eaeaff"/>
<rect x="301.67" y="180.49" width="11.72" height="9.97" fill="#eaeaff"/>
<rect x="312.70" y="180.49" width="11.72" height="9.97" fill="#eaeaff"/>
<rect x="323.73" y="180.49" width="11.72" height="9.97" fill="#eaeaff"/>
<rect x="334.75" y="180.49" width="11.72" height="9.97" fill="#eaeaff"/>
<rect x="345.77" y="180.49" width="11.72" height="9.97" fill="#eaeaff"/>
<rect x="356.80" y="180.49" width="11.72" height="9.97" fill="#eaeaff"/>
<rect x="367.82" y="180.49" width="11.72" height="9.97" fill="#eaeaff"/>
<rect x="378.85" y="180.49" width="11.72" height="9.97" fill="#eaeaff"/>
<rect x="389.88" y="180.49" width="11.02" height="9.97" fill="#eaeaff"/>
<rect x="224.50" y="189.76" width="11.72" height="9.97" fill="#f3f2ff"/>
<rect x="235.53" y="189.76" width="11.72" height="9.97" fill="#f9f9ff"/>
<rect x="246.55" y="189.76" width="11.72" height="9.97" fill="#f9f9ff"/>
<rect x="257.57" y="189.76" width="11.72" height="9.97" fill="#f9f9ff"/>
<rect x="268.60" y="189.76" width="11.72" height="9.97" fill="#f9f9ff"/>
<rect x="279.62" y="189.76" width="11.72" height="9.97" fill="#f9f9ff"/>
<rect x="290.65" y="189.76" width="11.72" height="9.97" fill="#f9f9ff"/>
<rect x="301.67" y="189.76" width="11.72" height="9.97" fill="#f9f9ff"/>
<rect x="312.70" y="189.76" width="11.72" height="9.97" fill="#f9f9ff"/>
<rect x="323.73" y="189.76" width="11.72" height="9.97" fill="#f9f9ff"/>
<rect x="334.75" y="189.76" width="11.72" height="9.97" fill="#f9f9ff"/>
<rect x="345.77" y="189.76" width="11.72" height="9.97" fill="#f9f9ff"/>
<rect x="356.80" y="189.76" width="11.72" height="9.97" fill="#f9f9ff"/>
<rect x="367.82" y="189.76" width="11.72" height="9.97" fill="#f9f9ff"/>
<rect x="378.85" y="189.76" width="11.72" height="9.97" fill="#f9f9ff"/>
<rect x="389.88" y="189.76" width="11.02" height="9.97" fill="#efeeff"/>
<rect x="224.50" y="199.03" width="11.72" height="9.27" fill="#efeeff"/>
<rect x="235.53" y="199.03" width="11.72" height="9.27" fill="#fbfbff"/>
<rect x="246.55" y="199.03" width="11.72" height="9.27" fill="#fbfbff"/>
<rect x="257.57" y="199.03" width="11.72" height="9.27" fill="#fbfbff"/>
<rect x="268.60" y="199.03" width="11.72" height="9.27" fill="#fbfbff"/>
<rect x="279.62" y="199.03" width="11.72" height="9.27" fill="#fbfbff"/>
<rect x="290.65" y="199.03" width="11.72" height="9.27" fill="#fbfbff"/>
<rect x="301.67" y="199.03" width="11.72" height="9.27" fill="#fbfbff"/>
<rect x="312.70" y="199.03" width="11.72" height="9.27" fill="#fbfbff"/>
<rect x="323.73" y="199.03" width="11.72" height="9.27" fill="#fbfbff"/>
<rect x="334.75" y="199.03" width="11.72" height="9.27" fill="#fbfbff"/>
<rect x="345.77" y="199.03" width="11.72" height="9.27" fill="#fbfbff"/>
<rect x="356.80" y="199.03" width="11.72" height="9.27" fill="#fbfbff"/>
<rect x="367.82" y="199.03" width="11.72" height="9.27" fill="#fbfbff"/>
<rect x="378.85" y="199.03" width="11.72" height="9.27" fill="#fbfbff"/>
<rect x="389.88" y="199.03" width="11.02" height="9.27" fill="#fbfbff"/>
<line x1="224.50" y1="13.60" x2="400.90" y2="13.60" stroke="#111" stroke-width="1.3"/>
<line x1="224.50" y1="13.00" x2="224.50" y2="208.90" stroke="#111" stroke-width="1.3"/>
<line x1="400.90" y1="13.00" x2="400.90" y2="208.90" stroke="#555" stroke-width="1.30"/>
<line x1="224.50" y1="208.30" x2="400.90" y2="208.30" stroke="#333" stroke-width="1.30"/>
<text x="218.30" y="18.64" font-size="8.2" font-weight="bold" text-anchor="middle" dominant-baseline="central">A</text>
<text x="218.30" y="27.91" font-size="8.2" font-weight="bold" text-anchor="middle" dominant-baseline="central">C</text>
<text x="218.30" y="37.18" font-size="8.2" font-weight="bold" text-anchor="middle" dominant-baseline="central">D</text>
<text x="218.30" y="46.45" font-size="8.2" font-weight="bold" text-anchor="middle" dominant-baseline="central">E</text>
<text x="218.30" y="55.72" font-size="8.2" font-weight="bold" text-anchor="middle" dominant-baseline="central">F</text>
<text x="218.30" y="64.99" font-size="8.2" font-weight="bold" text-anchor="middle" dominant-baseline="central">G</text>
<text x="218.30" y="74.26" font-size="8.2" font-weight="bold" text-anchor="middle" dominant-baseline="central">H</text>
<text x="218.30" y="83.54" font-size="8.2" font-weight="bold" text-anchor="middle" dominant-baseline="central">I</text>
<text x="218.30" y="92.81" font-size="8.2" font-weight="bold" text-anchor="middle" dominant-baseline="central">K</text>
<text x="218.30" y="102.08" font-size="8.2" font-weight="bold" text-anchor="middle" dominant-baseline="central">L</text>
<text x="218.30" y="111.35" font-size="8.2" font-weight="bold" text-anchor="middle" dominant-baseline="central">M</text>
<text x="218.30" y="120.62" font-size="8.2" font-weight="bold" text-anchor="middle" dominant-baseline="central">N</text>
<text x="218.30" y="129.89" font-size="8.2" font-weight="bold" text-anchor="middle" dominant-baseline="central">P</text>
<text x="218.30" y="139.16" font-size="8.2" font-weight="bold" text-anchor="middle" dominant-baseline="central">Q</text>
<text x="218.30" y="148.44" font-size="8.2" font-weight="bold" text-anchor="middle" dominant-baseline="central">R</text>
<text x="218.30" y="157.71" font-size="8.2" font-weight="bold" text-anchor="middle" dominant-baseline="central">S</text>
<text x="218.30" y="166.98" font-size="8.2" font-weight="bold" text-anchor="middle" dominant-baseline="central">T</text>
<text x="218.30" y="176.25" font-size="8.2" font-weight="bold" text-anchor="middle" dominant-baseline="central">V</text>
<text x="218.30" y="185.52" font-size="8.2" font-weight="bold" text-anchor="middle" dominant-baseline="central">W</text>
<text x="218.30" y="194.79" font-size="8.2" font-weight="bold" text-anchor="middle" dominant-baseline="central">Y</text>
<text x="218.30" y="204.06" font-size="8.2" font-weight="bold" text-anchor="middle" dominant-baseline="central">q</text>
<text x="230.01" y="216.20" font-size="8" font-weight="bold" text-anchor="middle" dominant-baseline="central">1</text>
<text x="241.04" y="216.20" font-size="8" font-weight="bold" text-anchor="middle" dominant-baseline="central">2</text>
<text x="252.06" y="216.20" font-size="8" font-weight="bold" text-anchor="middle" dominant-baseline="central">3</text>
<text x="263.09" y="216.20" font-size="8" font-weight="bold" text-anchor="middle" dominant-baseline="central">4</text>
<text x="274.11" y="216.20" font-size="8" font-weight="bold" text-anchor="middle" dominant-baseline="central">5</text>
<text x="285.14" y="216.20" font-size="8" font-weight="bold" text-anchor="middle" dominant-baseline="central">6</text>
<text x="296.16" y="216.20" font-size="8" font-weight="bold" text-anchor="middle" dominant-baseline="central">7</text>
<text x="307.19" y="216.20" font-size="8" font-weight="bold" text-anchor="middle" dominant-baseline="central">8</text>
<text x="318.21" y="216.20" font-size="8" font-weight="bold" text-anchor="middle" dominant-baseline="central">9</text>
<text x="329.24" y="216.20" font-size="8" font-weight="bold" text-anchor="middle" dominant-baseline="central">10</text>
<text x="340.26" y="216.20" font-size="8" font-weight="bold" text-anchor="middle" dominant-baseline="central">11</text>
<text x="351.29" y="216.20" font-size="8" font-weight="bold" text-anchor="middle" dominant-baseline="central">12</text>
<text x="362.31" y="216.20" font-size="8" font-weight="bold" text-anchor="middle" dominant-baseline="central">13</text>
<text x="373.34" y="216.20" font-size="8" font-weight="bold" text-anchor="middle" dominant-baseline="central">14</text>
<text x="384.36" y="216.20" font-size="8" font-weight="bold" text-anchor="middle" dominant-baseline="central">15</text>
<text x="395.39" y="216.20" font-size="8" font-weight="bold" text-anchor="middle" dominant-baseline="central">16</text>
<text x="312.70" y="227.40" font-size="7.7" font-weight="bold" text-anchor="middle" dominant-baseline="central">amino acid position</text>
<text x="307.50" y="4.70" font-size="8.9" font-weight="bold" text-anchor="middle" dominant-baseline="central">PC89 pVIII-16mer</text>
<text transform="translate(208.10,109.45) rotate(-90)" font-size="7.8" font-weight="bold" text-anchor="middle" dominant-baseline="central">amino acids</text>
<text x="195.60" y="20.50" font-size="12.2" font-weight="bold" style="stroke-width:0.35px">b</text>
<defs><linearGradient id="gb" x1="0" y1="0" x2="0" y2="1">
<stop offset="0.000" stop-color="#ff2600"/>
<stop offset="0.050" stop-color="#ff3c24"/>
<stop offset="0.100" stop-color="#ff5141"/>
<stop offset="0.150" stop-color="#ff675c"/>
<stop offset="0.200" stop-color="#ff7d75"/>
<stop offset="0.250" stop-color="#ff928d"/>
<stop offset="0.300" stop-color="#ffa8a5"/>
<stop offset="0.350" stop-color="#ffbebc"/>
<stop offset="0.400" stop-color="#ffd4d3"/>
<stop offset="0.450" stop-color="#ffe9e9"/>
<stop offset="0.500" stop-color="#ffffff"/>
<stop offset="0.550" stop-color="#eaeaff"/>
<stop offset="0.600" stop-color="#d6d5ff"/>
<stop offset="0.650" stop-color="#c0c0ff"/>
<stop offset="0.700" stop-color="#aaabff"/>
<stop offset="0.750" stop-color="#9496ff"/>
<stop offset="0.800" stop-color="#7d81ff"/>
<stop offset="0.850" stop-color="#656cff"/>
<stop offset="0.900" stop-color="#4c57ff"/>
<stop offset="0.950" stop-color="#3142ff"/>
<stop offset="1.000" stop-color="#0f2dff"/>
</linearGradient></defs>
<rect x="409.50" y="12.80" width="9.40" height="194.70" fill="url(#gb)" stroke="#444" stroke-width="0.9"/>
<line x1="409.50" y1="45.25" x2="411.10" y2="45.25" stroke="#222" stroke-width="0.9"/>
<line x1="417.30" y1="45.25" x2="418.90" y2="45.25" stroke="#222" stroke-width="0.9"/>
<text x="421.80" y="45.60" font-size="8.30" dominant-baseline="central" style="stroke-width:0.22px">2</text>
<line x1="409.50" y1="110.15" x2="411.10" y2="110.15" stroke="#222" stroke-width="0.9"/>
<line x1="417.30" y1="110.15" x2="418.90" y2="110.15" stroke="#222" stroke-width="0.9"/>
<text x="421.80" y="110.50" font-size="8.30" dominant-baseline="central" style="stroke-width:0.22px">0</text>
<line x1="409.50" y1="175.05" x2="411.10" y2="175.05" stroke="#222" stroke-width="0.9"/>
<line x1="417.30" y1="175.05" x2="418.90" y2="175.05" stroke="#222" stroke-width="0.9"/>
<text x="421.80" y="175.40" font-size="8.30" dominant-baseline="central" style="stroke-width:0.22px">-2</text>
<rect x="499.40" y="14.00" width="13.97" height="9.96" fill="#f3f2ff"/>
<rect x="512.67" y="14.00" width="13.97" height="9.96" fill="#efeeff"/>
<rect x="525.93" y="14.00" width="13.97" height="9.96" fill="#f7f7ff"/>
<rect x="539.20" y="14.00" width="13.97" height="9.96" fill="#dad9ff"/>
<rect x="552.47" y="14.00" width="13.97" height="9.96" fill="#f5f4ff"/>
<rect x="565.73" y="14.00" width="13.97" height="9.96" fill="#f7f7ff"/>
<rect x="579.00" y="14.00" width="13.97" height="9.96" fill="#f5f4ff"/>
<rect x="592.27" y="14.00" width="13.97" height="9.96" fill="#d7d6ff"/>
<rect x="605.53" y="14.00" width="13.97" height="9.96" fill="#f3f2ff"/>
<rect x="618.80" y="14.00" width="13.97" height="9.96" fill="#f9f9ff"/>
<rect x="632.07" y="14.00" width="13.97" height="9.96" fill="#ffffff"/>
<rect x="645.33" y="14.00" width="13.27" height="9.96" fill="#dfdeff"/>
<rect x="499.40" y="23.26" width="13.97" height="9.96" fill="#ffe5e5"/>
<rect x="512.67" y="23.26" width="13.97" height="9.96" fill="#ffdede"/>
<rect x="525.93" y="23.26" width="13.97" height="9.96" fill="#fff4f4"/>
<rect x="539.20" y="23.26" width="13.97" height="9.96" fill="#f0f0ff"/>
<rect x="552.47" y="23.26" width="13.97" height="9.96" fill="#ffe9e9"/>
<rect x="565.73" y="23.26" width="13.97" height="9.96" fill="#ffe9e9"/>
<rect x="579.00" y="23.26" width="13.97" height="9.96" fill="#ffeeee"/>
<rect x="592.27" y="23.26" width="13.97" height="9.96" fill="#dfdeff"/>
<rect x="605.53" y="23.26" width="13.97" height="9.96" fill="#ffe9e9"/>
<rect x="618.80" y="23.26" width="13.97" height="9.96" fill="#fff4f4"/>
<rect x="632.07" y="23.26" width="13.97" height="9.96" fill="#fff0f0"/>
<rect x="645.33" y="23.26" width="13.27" height="9.96" fill="#f0f0ff"/>
<rect x="499.40" y="32.51" width="13.97" height="9.96" fill="#ffcfce"/>
<rect x="512.67" y="32.51" width="13.97" height="9.96" fill="#ffd4d3"/>
<rect x="525.93" y="32.51" width="13.97" height="9.96" fill="#ffe9e9"/>
<rect x="539.20" y="32.51" width="13.97" height="9.96" fill="#f3f2ff"/>
<rect x="552.47" y="32.51" width="13.97" height="9.96" fill="#ffd8d7"/>
<rect x="565.73" y="32.51" width="13.97" height="9.96" fill="#ffd8d7"/>
<rect x="579.00" y="32.51" width="13.97" height="9.96" fill="#ffe5e5"/>
<rect x="592.27" y="32.51" width="13.97" height="9.96" fill="#eae9ff"/>
<rect x="605.53" y="32.51" width="13.97" height="9.96" fill="#ffe5e5"/>
<rect x="618.80" y="32.51" width="13.97" height="9.96" fill="#ffdede"/>
<rect x="632.07" y="32.51" width="13.97" height="9.96" fill="#ffd8d7"/>
<rect x="645.33" y="32.51" width="13.27" height="9.96" fill="#f3f2ff"/>
<rect x="499.40" y="41.77" width="13.97" height="9.96" fill="#ffe9e9"/>
<rect x="512.67" y="41.77" width="13.97" height="9.96" fill="#fff8f8"/>
<rect x="525.93" y="41.77" width="13.97" height="9.96" fill="#ffffff"/>
<rect x="539.20" y="41.77" width="13.97" height="9.96" fill="#ebebff"/>
<rect x="552.47" y="41.77" width="13.97" height="9.96" fill="#fffbfb"/>
<rect x="565.73" y="41.77" width="13.97" height="9.96" fill="#fffdfd"/>
<rect x="579.00" y="41.77" width="13.97" height="9.96" fill="#fffdfd"/>
<rect x="592.27" y="41.77" width="13.97" height="9.96" fill="#d9d9ff"/>
<rect x="605.53" y="41.77" width="13.97" height="9.96" fill="#fffdfd"/>
<rect x="618.80" y="41.77" width="13.97" height="9.96" fill="#fff8f8"/>
<rect x="632.07" y="41.77" width="13.97" height="9.96" fill="#fff8f8"/>
<rect x="645.33" y="41.77" width="13.27" height="9.96" fill="#e6e6ff"/>
<rect x="499.40" y="51.03" width="13.97" height="9.96" fill="#f5f4ff"/>
<rect x="512.67" y="51.03" width="13.97" height="9.96" fill="#f5f4ff"/>
<rect x="525.93" y="51.03" width="13.97" height="9.96" fill="#fffbfb"/>
<rect x="539.20" y="51.03" width="13.97" height="9.96" fill="#ffa4a0"/>
<rect x="552.47" y="51.03" width="13.97" height="9.96" fill="#f1f0ff"/>
<rect x="565.73" y="51.03" width="13.97" height="9.96" fill="#fbfbff"/>
<rect x="579.00" y="51.03" width="13.97" height="9.96" fill="#f7f7ff"/>
<rect x="592.27" y="51.03" width="13.97" height="9.96" fill="#ff928d"/>
<rect x="605.53" y="51.03" width="13.97" height="9.96" fill="#f1f0ff"/>
<rect x="618.80" y="51.03" width="13.97" height="9.96" fill="#f3f2ff"/>
<rect x="632.07" y="51.03" width="13.97" height="9.96" fill="#f3f2ff"/>
<rect x="645.33" y="51.03" width="13.27" height="9.96" fill="#ffe5e5"/>
<rect x="499.40" y="60.29" width="13.97" height="9.96" fill="#fff0f0"/>
<rect x="512.67" y="60.29" width="13.97" height="9.96" fill="#f9f9ff"/>
<rect x="525.93" y="60.29" width="13.97" height="9.96" fill="#f1f0ff"/>
<rect x="539.20" y="60.29" width="13.97" height="9.96" fill="#cdcdff"/>
<rect x="552.47" y="60.29" width="13.97" height="9.96" fill="#f9f9ff"/>
<rect x="565.73" y="60.29" width="13.97" height="9.96" fill="#fbfbff"/>
<rect x="579.00" y="60.29" width="13.97" height="9.96" fill="#f9f9ff"/>
<rect x="592.27" y="60.29" width="13.97" height="9.96" fill="#c9c8ff"/>
<rect x="605.53" y="60.29" width="13.97" height="9.96" fill="#f7f7ff"/>
<rect x="618.80" y="60.29" width="13.97" height="9.96" fill="#f9f9ff"/>
<rect x="632.07" y="60.29" width="13.97" height="9.96" fill="#f9f9ff"/>
<rect x="645.33" y="60.29" width="13.27" height="9.96" fill="#e6e6ff"/>
<rect x="499.40" y="69.54" width="13.97" height="9.96" fill="#fffbfb"/>
<rect x="512.67" y="69.54" width="13.97" height="9.96" fill="#ffeeee"/>
<rect x="525.93" y="69.54" width="13.97" height="9.96" fill="#fff6f6"/>
<rect x="539.20" y="69.54" width="13.97" height="9.96" fill="#f0f0ff"/>
<rect x="552.47" y="69.54" width="13.97" height="9.96" fill="#fff0f0"/>
<rect x="565.73" y="69.54" width="13.97" height="9.96" fill="#fff2f2"/>
<rect x="579.00" y="69.54" width="13.97" height="9.96" fill="#fff4f4"/>
<rect x="592.27" y="69.54" width="13.97" height="9.96" fill="#d7d6ff"/>
<rect x="605.53" y="69.54" width="13.97" height="9.96" fill="#fff2f2"/>
<rect x="618.80" y="69.54" width="13.97" height="9.96" fill="#fff4f4"/>
<rect x="632.07" y="69.54" width="13.97" height="9.96" fill="#fff6f6"/>
<rect x="645.33" y="69.54" width="13.27" height="9.96" fill="#f0f0ff"/>
<rect x="499.40" y="78.80" width="13.97" height="9.96" fill="#fff6f6"/>
<rect x="512.67" y="78.80" width="13.97" height="9.96" fill="#fff8f8"/>
<rect x="525.93" y="78.80" width="13.97" height="9.96" fill="#ffe5e5"/>
<rect x="539.20" y="78.80" width="13.97" height="9.96" fill="#ff9d99"/>
<rect x="552.47" y="78.80" width="13.97" height="9.96" fill="#fff8f8"/>
<rect x="565.73" y="78.80" width="13.97" height="9.96" fill="#fff4f4"/>
<rect x="579.00" y="78.80" width="13.97" height="9.96" fill="#fff4f4"/>
<rect x="592.27" y="78.80" width="13.97" height="9.96" fill="#ff2600"/>
<rect x="605.53" y="78.80" width="13.97" height="9.96" fill="#fffbfb"/>
<rect x="618.80" y="78.80" width="13.97" height="9.96" fill="#fffbfb"/>
<rect x="632.07" y="78.80" width="13.97" height="9.96" fill="#fffdfd"/>
<rect x="645.33" y="78.80" width="13.27" height="9.96" fill="#ff675c"/>
<rect x="499.40" y="88.06" width="13.97" height="9.96" fill="#ffe9e9"/>
<rect x="512.67" y="88.06" width="13.97" height="9.96" fill="#ffe9e9"/>
<rect x="525.93" y="88.06" width="13.97" height="9.96" fill="#fff0f0"/>
<rect x="539.20" y="88.06" width="13.97" height="9.96" fill="#fffdfd"/>
<rect x="552.47" y="88.06" width="13.97" height="9.96" fill="#ffe9e9"/>
<rect x="565.73" y="88.06" width="13.97" height="9.96" fill="#fff2f2"/>
<rect x="579.00" y="88.06" width="13.97" height="9.96" fill="#ffeeee"/>
<rect x="592.27" y="88.06" width="13.97" height="9.96" fill="#d7d6ff"/>
<rect x="605.53" y="88.06" width="13.97" height="9.96" fill="#fff0f0"/>
<rect x="618.80" y="88.06" width="13.97" height="9.96" fill="#fff2f2"/>
<rect x="632.07" y="88.06" width="13.97" height="9.96" fill="#fff2f2"/>
<rect x="645.33" y="88.06" width="13.27" height="9.96" fill="#ebebff"/>
<rect x="499.40" y="97.31" width="13.97" height="9.96" fill="#e6e6ff"/>
<rect x="512.67" y="97.31" width="13.97" height="9.96" fill="#e6e6ff"/>
<rect x="525.93" y="97.31" width="13.97" height="9.96" fill="#f5f4ff"/>
<rect x="539.20" y="97.31" width="13.97" height="9.96" fill="#ffc2c1"/>
<rect x="552.47" y="97.31" width="13.97" height="9.96" fill="#eaeaff"/>
<rect x="565.73" y="97.31" width="13.97" height="9.96" fill="#efeeff"/>
<rect x="579.00" y="97.31" width="13.97" height="9.96" fill="#efeeff"/>
<rect x="592.27" y="97.31" width="13.97" height="9.96" fill="#ffa4a0"/>
<rect x="605.53" y="97.31" width="13.97" height="9.96" fill="#eaeaff"/>
<rect x="618.80" y="97.31" width="13.97" height="9.96" fill="#eaeaff"/>
<rect x="632.07" y="97.31" width="13.97" height="9.96" fill="#efeeff"/>
<rect x="645.33" y="97.31" width="13.27" height="9.96" fill="#ffbebc"/>
<rect x="499.40" y="106.57" width="13.97" height="9.96" fill="#f5f4ff"/>
<rect x="512.67" y="106.57" width="13.97" height="9.96" fill="#f1f0ff"/>
<rect x="525.93" y="106.57" width="13.97" height="9.96" fill="#fffbfb"/>
<rect x="539.20" y="106.57" width="13.97" height="9.96" fill="#ffa8a5"/>
<rect x="552.47" y="106.57" width="13.97" height="9.96" fill="#efeeff"/>
<rect x="565.73" y="106.57" width="13.97" height="9.96" fill="#f3f2ff"/>
<rect x="579.00" y="106.57" width="13.97" height="9.96" fill="#f5f4ff"/>
<rect x="592.27" y="106.57" width="13.97" height="9.96" fill="#ff7870"/>
<rect x="605.53" y="106.57" width="13.97" height="9.96" fill="#f1f0ff"/>
<rect x="618.80" y="106.57" width="13.97" height="9.96" fill="#f1f0ff"/>
<rect x="632.07" y="106.57" width="13.97" height="9.96" fill="#f1f0ff"/>
<rect x="645.33" y="106.57" width="13.27" height="9.96" fill="#ff9d99"/>
<rect x="499.40" y="115.83" width="13.97" height="9.96" fill="#ffbebc"/>
<rect x="512.67" y="115.83" width="13.97" height="9.96" fill="#ffb3b1"/>
<rect x="525.93" y="115.83" width="13.97" height="9.96" fill="#ffc9c8"/>
<rect x="539.20" y="115.83" width="13.97" height="9.96" fill="#fff8f8"/>
<rect x="552.47" y="115.83" width="13.97" height="9.96" fill="#ffbab8"/>
<rect x="565.73" y="115.83" width="13.97" height="9.96" fill="#ffc2c1"/>
<rect x="579.00" y="115.83" width="13.97" height="9.96" fill="#ffc2c1"/>
<rect x="592.27" y="115.83" width="13.97" height="9.96" fill="#eae9ff"/>
<rect x="605.53" y="115.83" width="13.97" height="9.96" fill="#ffbebc"/>
<rect x="618.80" y="115.83" width="13.97" height="9.96" fill="#ffc4c3"/>
<rect x="632.07" y="115.83" width="13.97" height="9.96" fill="#ffc4c3"/>
<rect x="645.33" y="115.83" width="13.27" height="9.96" fill="#f8f7ff"/>
<rect x="499.40" y="125.09" width="13.97" height="9.96" fill="#eaeaff"/>
<rect x="512.67" y="125.09" width="13.97" height="9.96" fill="#efeeff"/>
<rect x="525.93" y="125.09" width="13.97" height="9.96" fill="#f3f2ff"/>
<rect x="539.20" y="125.09" width="13.97" height="9.96" fill="#e6e6ff"/>
<rect x="552.47" y="125.09" width="13.97" height="9.96" fill="#f5f4ff"/>
<rect x="565.73" y="125.09" width="13.97" height="9.96" fill="#f5f4ff"/>
<rect x="579.00" y="125.09" width="13.97" height="9.96" fill="#f5f4ff"/>
<rect x="592.27" y="125.09" width="13.97" height="9.96" fill="#ceceff"/>
<rect x="605.53" y="125.09" width="13.97" height="9.96" fill="#f7f7ff"/>
<rect x="618.80" y="125.09" width="13.97" height="9.96" fill="#f7f7ff"/>
<rect x="632.07" y="125.09" width="13.97" height="9.96" fill="#f7f7ff"/>
<rect x="645.33" y="125.09" width="13.27" height="9.96" fill="#e1e1ff"/>
<rect x="499.40" y="134.34" width="13.97" height="9.96" fill="#f5f4ff"/>
<rect x="512.67" y="134.34" width="13.97" height="9.96" fill="#f7f7ff"/>
<rect x="525.93" y="134.34" width="13.97" height="9.96" fill="#f3f2ff"/>
<rect x="539.20" y="134.34" width="13.97" height="9.96" fill="#f3f2ff"/>
<rect x="552.47" y="134.34" width="13.97" height="9.96" fill="#f7f7ff"/>
<rect x="565.73" y="134.34" width="13.97" height="9.96" fill="#f9f9ff"/>
<rect x="579.00" y="134.34" width="13.97" height="9.96" fill="#f7f7ff"/>
<rect x="592.27" y="134.34" width="13.97" height="9.96" fill="#ceceff"/>
<rect x="605.53" y="134.34" width="13.97" height="9.96" fill="#f9f9ff"/>
<rect x="618.80" y="134.34" width="13.97" height="9.96" fill="#f9f9ff"/>
<rect x="632.07" y="134.34" width="13.97" height="9.96" fill="#f9f9ff"/>
<rect x="645.33" y="134.34" width="13.27" height="9.96" fill="#e1e1ff"/>
<rect x="499.40" y="143.60" width="13.97" height="9.96" fill="#f3f2ff"/>
<rect x="512.67" y="143.60" width="13.97" height="9.96" fill="#fbfbff"/>
<rect x="525.93" y="143.60" width="13.97" height="9.96" fill="#f5f4ff"/>
<rect x="539.20" y="143.60" width="13.97" height="9.96" fill="#dad9ff"/>
<rect x="552.47" y="143.60" width="13.97" height="9.96" fill="#f9f9ff"/>
<rect x="565.73" y="143.60" width="13.97" height="9.96" fill="#f9f9ff"/>
<rect x="579.00" y="143.60" width="13.97" height="9.96" fill="#fbfbff"/>
<rect x="592.27" y="143.60" width="13.97" height="9.96" fill="#ceceff"/>
<rect x="605.53" y="143.60" width="13.97" height="9.96" fill="#fdfdff"/>
<rect x="618.80" y="143.60" width="13.97" height="9.96" fill="#f9f9ff"/>
<rect x="632.07" y="143.60" width="13.97" height="9.96" fill="#f7f7ff"/>
<rect x="645.33" y="143.60" width="13.27" height="9.96" fill="#e1e1ff"/>
<rect x="499.40" y="152.86" width="13.97" height="9.96" fill="#ffffff"/>
<rect x="512.67" y="152.86" width="13.97" height="9.96" fill="#fff6f6"/>
<rect x="525.93" y="152.86" width="13.97" height="9.96" fill="#fffdfd"/>
<rect x="539.20" y="152.86" width="13.97" height="9.96" fill="#f0f0ff"/>
<rect x="552.47" y="152.86" width="13.97" height="9.96" fill="#fff8f8"/>
<rect x="565.73" y="152.86" width="13.97" height="9.96" fill="#fffbfb"/>
<rect x="579.00" y="152.86" width="13.97" height="9.96" fill="#fff8f8"/>
<rect x="592.27" y="152.86" width="13.97" height="9.96" fill="#dfdeff"/>
<rect x="605.53" y="152.86" width="13.97" height="9.96" fill="#fff2f2"/>
<rect x="618.80" y="152.86" width="13.97" height="9.96" fill="#fff8f8"/>
<rect x="632.07" y="152.86" width="13.97" height="9.96" fill="#fffbfb"/>
<rect x="645.33" y="152.86" width="13.27" height="9.96" fill="#ebebff"/>
<rect x="499.40" y="162.11" width="13.97" height="9.96" fill="#fbfbff"/>
<rect x="512.67" y="162.11" width="13.97" height="9.96" fill="#ffffff"/>
<rect x="525.93" y="162.11" width="13.97" height="9.96" fill="#fff6f6"/>
<rect x="539.20" y="162.11" width="13.97" height="9.96" fill="#f0f0ff"/>
<rect x="552.47" y="162.11" width="13.97" height="9.96" fill="#fff4f4"/>
<rect x="565.73" y="162.11" width="13.97" height="9.96" fill="#fff8f8"/>
<rect x="579.00" y="162.11" width="13.97" height="9.96" fill="#fff4f4"/>
<rect x="592.27" y="162.11" width="13.97" height="9.96" fill="#e4e4ff"/>
<rect x="605.53" y="162.11" width="13.97" height="9.96" fill="#fff2f2"/>
<rect x="618.80" y="162.11" width="13.97" height="9.96" fill="#fff4f4"/>
<rect x="632.07" y="162.11" width="13.97" height="9.96" fill="#fff6f6"/>
<rect x="645.33" y="162.11" width="13.27" height="9.96" fill="#eeedff"/>
<rect x="499.40" y="171.37" width="13.97" height="9.96" fill="#f9f9ff"/>
<rect x="512.67" y="171.37" width="13.97" height="9.96" fill="#eaeaff"/>
<rect x="525.93" y="171.37" width="13.97" height="9.96" fill="#fbfbff"/>
<rect x="539.20" y="171.37" width="13.97" height="9.96" fill="#ffeeee"/>
<rect x="552.47" y="171.37" width="13.97" height="9.96" fill="#efeeff"/>
<rect x="565.73" y="171.37" width="13.97" height="9.96" fill="#f3f2ff"/>
<rect x="579.00" y="171.37" width="13.97" height="9.96" fill="#f1f0ff"/>
<rect x="592.27" y="171.37" width="13.97" height="9.96" fill="#ff7d75"/>
<rect x="605.53" y="171.37" width="13.97" height="9.96" fill="#efeeff"/>
<rect x="618.80" y="171.37" width="13.97" height="9.96" fill="#f3f2ff"/>
<rect x="632.07" y="171.37" width="13.97" height="9.96" fill="#f3f2ff"/>
<rect x="645.33" y="171.37" width="13.27" height="9.96" fill="#ffadaa"/>
<rect x="499.40" y="180.63" width="13.97" height="9.96" fill="#fbfbff"/>
<rect x="512.67" y="180.63" width="13.97" height="9.96" fill="#fdfdff"/>
<rect x="525.93" y="180.63" width="13.97" height="9.96" fill="#f5f4ff"/>
<rect x="539.20" y="180.63" width="13.97" height="9.96" fill="#e6e6ff"/>
<rect x="552.47" y="180.63" width="13.97" height="9.96" fill="#f5f4ff"/>
<rect x="565.73" y="180.63" width="13.97" height="9.96" fill="#f7f7ff"/>
<rect x="579.00" y="180.63" width="13.97" height="9.96" fill="#f9f9ff"/>
<rect x="592.27" y="180.63" width="13.97" height="9.96" fill="#d7d6ff"/>
<rect x="605.53" y="180.63" width="13.97" height="9.96" fill="#f9f9ff"/>
<rect x="618.80" y="180.63" width="13.97" height="9.96" fill="#f3f2ff"/>
<rect x="632.07" y="180.63" width="13.97" height="9.96" fill="#f5f4ff"/>
<rect x="645.33" y="180.63" width="13.27" height="9.96" fill="#e6e6ff"/>
<rect x="499.40" y="189.89" width="13.97" height="9.96" fill="#ffd8d7"/>
<rect x="512.67" y="189.89" width="13.97" height="9.96" fill="#ffcfce"/>
<rect x="525.93" y="189.89" width="13.97" height="9.96" fill="#ffdede"/>
<rect x="539.20" y="189.89" width="13.97" height="9.96" fill="#fff0f0"/>
<rect x="552.47" y="189.89" width="13.97" height="9.96" fill="#ffd4d3"/>
<rect x="565.73" y="189.89" width="13.97" height="9.96" fill="#ffd8d7"/>
<rect x="579.00" y="189.89" width="13.97" height="9.96" fill="#ffdada"/>
<rect x="592.27" y="189.89" width="13.97" height="9.96" fill="#eae9ff"/>
<rect x="605.53" y="189.89" width="13.97" height="9.96" fill="#ffdede"/>
<rect x="618.80" y="189.89" width="13.97" height="9.96" fill="#ffdede"/>
<rect x="632.07" y="189.89" width="13.97" height="9.96" fill="#ffdede"/>
<rect x="645.33" y="189.89" width="13.27" height="9.96" fill="#f5f5ff"/>
<rect x="499.40" y="199.14" width="13.97" height="9.26" fill="#fff6f6"/>
<rect x="512.67" y="199.14" width="13.97" height="9.26" fill="#fff0f0"/>
<rect x="525.93" y="199.14" width="13.97" height="9.26" fill="#ffffff"/>
<rect x="539.20" y="199.14" width="13.97" height="9.26" fill="#ffffff"/>
<rect x="552.47" y="199.14" width="13.97" height="9.26" fill="#ffffff"/>
<rect x="565.73" y="199.14" width="13.97" height="9.26" fill="#ffffff"/>
<rect x="579.00" y="199.14" width="13.97" height="9.26" fill="#ffffff"/>
<rect x="592.27" y="199.14" width="13.97" height="9.26" fill="#d7d6ff"/>
<rect x="605.53" y="199.14" width="13.97" height="9.26" fill="#ffffff"/>
<rect x="618.80" y="199.14" width="13.97" height="9.26" fill="#ffffff"/>
<rect x="632.07" y="199.14" width="13.97" height="9.26" fill="#ffffff"/>
<rect x="645.33" y="199.14" width="13.27" height="9.26" fill="#e6e6ff"/>
<line x1="499.40" y1="14.00" x2="658.60" y2="14.00" stroke="#111" stroke-width="1.3"/>
<line x1="499.40" y1="13.40" x2="499.40" y2="209.00" stroke="#111" stroke-width="1.3"/>
<line x1="658.60" y1="13.40" x2="658.60" y2="209.00" stroke="#555" stroke-width="1.30"/>
<line x1="499.40" y1="208.40" x2="658.60" y2="208.40" stroke="#333" stroke-width="1.30"/>
<text x="493.20" y="19.03" font-size="8.2" font-weight="bold" text-anchor="middle" dominant-baseline="central">A</text>
<text x="493.20" y="28.29" font-size="8.2" font-weight="bold" text-anchor="middle" dominant-baseline="central">C</text>
<text x="493.20" y="37.54" font-size="8.2" font-weight="bold" text-anchor="middle" dominant-baseline="central">D</text>
<text x="493.20" y="46.80" font-size="8.2" font-weight="bold" text-anchor="middle" dominant-baseline="central">E</text>
<text x="493.20" y="56.06" font-size="8.2" font-weight="bold" text-anchor="middle" dominant-baseline="central">F</text>
<text x="493.20" y="65.31" font-size="8.2" font-weight="bold" text-anchor="middle" dominant-baseline="central">G</text>
<text x="493.20" y="74.57" font-size="8.2" font-weight="bold" text-anchor="middle" dominant-baseline="central">H</text>
<text x="493.20" y="83.83" font-size="8.2" font-weight="bold" text-anchor="middle" dominant-baseline="central">I</text>
<text x="493.20" y="93.09" font-size="8.2" font-weight="bold" text-anchor="middle" dominant-baseline="central">K</text>
<text x="493.20" y="102.34" font-size="8.2" font-weight="bold" text-anchor="middle" dominant-baseline="central">L</text>
<text x="493.20" y="111.60" font-size="8.2" font-weight="bold" text-anchor="middle" dominant-baseline="central">M</text>
<text x="493.20" y="120.86" font-size="8.2" font-weight="bold" text-anchor="middle" dominant-baseline="central">N</text>
<text x="493.20" y="130.11" font-size="8.2" font-weight="bold" text-anchor="middle" dominant-baseline="central">P</text>
<text x="493.20" y="139.37" font-size="8.2" font-weight="bold" text-anchor="middle" dominant-baseline="central">Q</text>
<text x="493.20" y="148.63" font-size="8.2" font-weight="bold" text-anchor="middle" dominant-baseline="central">R</text>
<text x="493.20" y="157.89" font-size="8.2" font-weight="bold" text-anchor="middle" dominant-baseline="central">S</text>
<text x="493.20" y="167.14" font-size="8.2" font-weight="bold" text-anchor="middle" dominant-baseline="central">T</text>
<text x="493.20" y="176.40" font-size="8.2" font-weight="bold" text-anchor="middle" dominant-baseline="central">V</text>
<text x="493.20" y="185.66" font-size="8.2" font-weight="bold" text-anchor="middle" dominant-baseline="central">W</text>
<text x="493.20" y="194.91" font-size="8.2" font-weight="bold" text-anchor="middle" dominant-baseline="central">Y</text>
<text x="493.20" y="204.17" font-size="8.2" font-weight="bold" text-anchor="middle" dominant-baseline="central">q</text>
<text x="506.03" y="216.40" font-size="8" font-weight="bold" text-anchor="middle" dominant-baseline="central">1</text>
<text x="519.30" y="216.40" font-size="8" font-weight="bold" text-anchor="middle" dominant-baseline="central">2</text>
<text x="532.57" y="216.40" font-size="8" font-weight="bold" text-anchor="middle" dominant-baseline="central">3</text>
<text x="545.83" y="216.40" font-size="8" font-weight="bold" text-anchor="middle" dominant-baseline="central">4</text>
<text x="559.10" y="216.40" font-size="8" font-weight="bold" text-anchor="middle" dominant-baseline="central">5</text>
<text x="572.37" y="216.40" font-size="8" font-weight="bold" text-anchor="middle" dominant-baseline="central">6</text>
<text x="585.63" y="216.40" font-size="8" font-weight="bold" text-anchor="middle" dominant-baseline="central">7</text>
<text x="598.90" y="216.40" font-size="8" font-weight="bold" text-anchor="middle" dominant-baseline="central">8</text>
<text x="612.17" y="216.40" font-size="8" font-weight="bold" text-anchor="middle" dominant-baseline="central">9</text>
<text x="625.43" y="216.40" font-size="8" font-weight="bold" text-anchor="middle" dominant-baseline="central">10</text>
<text x="638.70" y="216.40" font-size="8" font-weight="bold" text-anchor="middle" dominant-baseline="central">11</text>
<text x="651.97" y="216.40" font-size="8" font-weight="bold" text-anchor="middle" dominant-baseline="central">12</text>
<text x="579.00" y="227.60" font-size="7.7" font-weight="bold" text-anchor="middle" dominant-baseline="central">amino acid position</text>
<text x="572.50" y="4.70" font-size="8.9" font-weight="bold" text-anchor="middle" dominant-baseline="central">pSD pIII-VHH_12mer</text>
<text transform="translate(483.60,109.70) rotate(-90)" font-size="7.8" font-weight="bold" text-anchor="middle" dominant-baseline="central">amino acids</text>
<text x="476.60" y="21.50" font-size="12.2" font-weight="bold" style="stroke-width:0.35px">c</text>
<defs><linearGradient id="gc" x1="0" y1="0" x2="0" y2="1">
<stop offset="0.000" stop-color="#ff2600"/>
<stop offset="0.050" stop-color="#ff3c24"/>
<stop offset="0.100" stop-color="#ff5141"/>
<stop offset="0.150" stop-color="#ff675c"/>
<stop offset="0.200" stop-color="#ff7d75"/>
<stop offset="0.250" stop-color="#ff928d"/>
<stop offset="0.300" stop-color="#ffa8a5"/>
<stop offset="0.350" stop-color="#ffbebc"/>
<stop offset="0.400" stop-color="#ffd4d3"/>
<stop offset="0.450" stop-color="#ffe9e9"/>
<stop offset="0.500" stop-color="#ffffff"/>
<stop offset="0.550" stop-color="#eaeaff"/>
<stop offset="0.600" stop-color="#d6d5ff"/>
<stop offset="0.650" stop-color="#c0c0ff"/>
<stop offset="0.700" stop-color="#aaabff"/>
<stop offset="0.750" stop-color="#9496ff"/>
<stop offset="0.800" stop-color="#7d81ff"/>
<stop offset="0.850" stop-color="#656cff"/>
<stop offset="0.900" stop-color="#4c57ff"/>
<stop offset="0.950" stop-color="#3142ff"/>
<stop offset="1.000" stop-color="#0f2dff"/>
</linearGradient></defs>
<rect x="666.70" y="14.00" width="8.40" height="194.50" fill="url(#gc)" stroke="#444" stroke-width="0.9"/>
<line x1="666.70" y1="46.42" x2="668.30" y2="46.42" stroke="#222" stroke-width="0.9"/>
<line x1="673.50" y1="46.42" x2="675.10" y2="46.42" stroke="#222" stroke-width="0.9"/>
<text x="677.80" y="46.77" font-size="8.30" dominant-baseline="central" style="stroke-width:0.22px">2</text>
<line x1="666.70" y1="111.25" x2="668.30" y2="111.25" stroke="#222" stroke-width="0.9"/>
<line x1="673.50" y1="111.25" x2="675.10" y2="111.25" stroke="#222" stroke-width="0.9"/>
<text x="677.80" y="111.60" font-size="8.30" dominant-baseline="central" style="stroke-width:0.22px">0</text>
<line x1="666.70" y1="176.08" x2="668.30" y2="176.08" stroke="#222" stroke-width="0.9"/>
<line x1="673.50" y1="176.08" x2="675.10" y2="176.08" stroke="#222" stroke-width="0.9"/>
<text x="677.80" y="176.43" font-size="8.30" dominant-baseline="central" style="stroke-width:0.22px">-2</text>
<rect x="31.30" y="276.40" width="11.76" height="10.01" fill="#f9f9ff"/>
<rect x="42.36" y="276.40" width="11.76" height="10.01" fill="#f5f4ff"/>
<rect x="53.42" y="276.40" width="11.76" height="10.01" fill="#ffffff"/>
<rect x="64.49" y="276.40" width="11.76" height="10.01" fill="#f7f7ff"/>
<rect x="75.55" y="276.40" width="11.76" height="10.01" fill="#ffffff"/>
<rect x="86.61" y="276.40" width="11.76" height="10.01" fill="#f7f7ff"/>
<rect x="97.67" y="276.40" width="11.76" height="10.01" fill="#ffffff"/>
<rect x="108.74" y="276.40" width="11.76" height="10.01" fill="#efeeff"/>
<rect x="119.80" y="276.40" width="11.76" height="10.01" fill="#ffffff"/>
<rect x="130.86" y="276.40" width="11.76" height="10.01" fill="#f7f7ff"/>
<rect x="141.93" y="276.40" width="11.76" height="10.01" fill="#fff8f8"/>
<rect x="152.99" y="276.40" width="11.76" height="10.01" fill="#f7f7ff"/>
<rect x="164.05" y="276.40" width="11.76" height="10.01" fill="#fff8f8"/>
<rect x="175.11" y="276.40" width="11.76" height="10.01" fill="#f9f9ff"/>
<rect x="186.18" y="276.40" width="11.76" height="10.01" fill="#fff8f8"/>
<rect x="197.24" y="276.40" width="11.06" height="10.01" fill="#f9f9ff"/>
<rect x="31.30" y="285.71" width="11.76" height="10.01" fill="#f7f7ff"/>
<rect x="42.36" y="285.71" width="11.76" height="10.01" fill="#f7f7ff"/>
<rect x="53.42" y="285.71" width="11.76" height="10.01" fill="#f7f7ff"/>
<rect x="64.49" y="285.71" width="11.76" height="10.01" fill="#f7f7ff"/>
<rect x="75.55" y="285.71" width="11.76" height="10.01" fill="#f7f7ff"/>
<rect x="86.61" y="285.71" width="11.76" height="10.01" fill="#f7f7ff"/>
<rect x="97.67" y="285.71" width="11.76" height="10.01" fill="#f9f9ff"/>
<rect x="108.74" y="285.71" width="11.76" height="10.01" fill="#f7f7ff"/>
<rect x="119.80" y="285.71" width="11.76" height="10.01" fill="#f5f4ff"/>
<rect x="130.86" y="285.71" width="11.76" height="10.01" fill="#f5f4ff"/>
<rect x="141.93" y="285.71" width="11.76" height="10.01" fill="#f7f7ff"/>
<rect x="152.99" y="285.71" width="11.76" height="10.01" fill="#f3f2ff"/>
<rect x="164.05" y="285.71" width="11.76" height="10.01" fill="#f5f4ff"/>
<rect x="175.11" y="285.71" width="11.76" height="10.01" fill="#f7f7ff"/>
<rect x="186.18" y="285.71" width="11.76" height="10.01" fill="#f5f4ff"/>
<rect x="197.24" y="285.71" width="11.06" height="10.01" fill="#f5f4ff"/>
<rect x="31.30" y="295.03" width="11.76" height="10.01" fill="#fff8f8"/>
<rect x="42.36" y="295.03" width="11.76" height="10.01" fill="#fff8f8"/>
<rect x="53.42" y="295.03" width="11.76" height="10.01" fill="#fff4f4"/>
<rect x="64.49" y="295.03" width="11.76" height="10.01" fill="#fff6f6"/>
<rect x="75.55" y="295.03" width="11.76" height="10.01" fill="#fff6f6"/>
<rect x="86.61" y="295.03" width="11.76" height="10.01" fill="#fff6f6"/>
<rect x="97.67" y="295.03" width="11.76" height="10.01" fill="#fff6f6"/>
<rect x="108.74" y="295.03" width="11.76" height="10.01" fill="#fff8f8"/>
<rect x="119.80" y="295.03" width="11.76" height="10.01" fill="#fff8f8"/>
<rect x="130.86" y="295.03" width="11.76" height="10.01" fill="#fff8f8"/>
<rect x="141.93" y="295.03" width="11.76" height="10.01" fill="#fff6f6"/>
<rect x="152.99" y="295.03" width="11.76" height="10.01" fill="#fffbfb"/>
<rect x="164.05" y="295.03" width="11.76" height="10.01" fill="#fff8f8"/>
<rect x="175.11" y="295.03" width="11.76" height="10.01" fill="#fffbfb"/>
<rect x="186.18" y="295.03" width="11.76" height="10.01" fill="#fff8f8"/>
<rect x="197.24" y="295.03" width="11.06" height="10.01" fill="#fff8f8"/>
<rect x="31.30" y="304.34" width="11.76" height="10.01" fill="#fffbfb"/>
<rect x="42.36" y="304.34" width="11.76" height="10.01" fill="#fffdfd"/>
<rect x="53.42" y="304.34" width="11.76" height="10.01" fill="#fffbfb"/>
<rect x="64.49" y="304.34" width="11.76" height="10.01" fill="#fffdfd"/>
<rect x="75.55" y="304.34" width="11.76" height="10.01" fill="#fffdfd"/>
<rect x="86.61" y="304.34" width="11.76" height="10.01" fill="#fffdfd"/>
<rect x="97.67" y="304.34" width="11.76" height="10.01" fill="#fffdfd"/>
<rect x="108.74" y="304.34" width="11.76" height="10.01" fill="#fffdfd"/>
<rect x="119.80" y="304.34" width="11.76" height="10.01" fill="#fffdfd"/>
<rect x="130.86" y="304.34" width="11.76" height="10.01" fill="#fffdfd"/>
<rect x="141.93" y="304.34" width="11.76" height="10.01" fill="#fffdfd"/>
<rect x="152.99" y="304.34" width="11.76" height="10.01" fill="#ffffff"/>
<rect x="164.05" y="304.34" width="11.76" height="10.01" fill="#fffdfd"/>
<rect x="175.11" y="304.34" width="11.76" height="10.01" fill="#ffffff"/>
<rect x="186.18" y="304.34" width="11.76" height="10.01" fill="#fffdfd"/>
<rect x="197.24" y="304.34" width="11.06" height="10.01" fill="#ffffff"/>
<rect x="31.30" y="313.66" width="11.76" height="10.01" fill="#f7f7ff"/>
<rect x="42.36" y="313.66" width="11.76" height="10.01" fill="#efeeff"/>
<rect x="53.42" y="313.66" width="11.76" height="10.01" fill="#efeeff"/>
<rect x="64.49" y="313.66" width="11.76" height="10.01" fill="#efeeff"/>
<rect x="75.55" y="313.66" width="11.76" height="10.01" fill="#efeeff"/>
<rect x="86.61" y="313.66" width="11.76" height="10.01" fill="#efeeff"/>
<rect x="97.67" y="313.66" width="11.76" height="10.01" fill="#f1f0ff"/>
<rect x="108.74" y="313.66" width="11.76" height="10.01" fill="#efeeff"/>
<rect x="119.80" y="313.66" width="11.76" height="10.01" fill="#edecff"/>
<rect x="130.86" y="313.66" width="11.76" height="10.01" fill="#edecff"/>
<rect x="141.93" y="313.66" width="11.76" height="10.01" fill="#eaeaff"/>
<rect x="152.99" y="313.66" width="11.76" height="10.01" fill="#edecff"/>
<rect x="164.05" y="313.66" width="11.76" height="10.01" fill="#edecff"/>
<rect x="175.11" y="313.66" width="11.76" height="10.01" fill="#efeeff"/>
<rect x="186.18" y="313.66" width="11.76" height="10.01" fill="#edecff"/>
<rect x="197.24" y="313.66" width="11.06" height="10.01" fill="#e0e0ff"/>
<rect x="31.30" y="322.97" width="11.76" height="10.01" fill="#eaeaff"/>
<rect x="42.36" y="322.97" width="11.76" height="10.01" fill="#eaeaff"/>
<rect x="53.42" y="322.97" width="11.76" height="10.01" fill="#eaeaff"/>
<rect x="64.49" y="322.97" width="11.76" height="10.01" fill="#eaeaff"/>
<rect x="75.55" y="322.97" width="11.76" height="10.01" fill="#eaeaff"/>
<rect x="86.61" y="322.97" width="11.76" height="10.01" fill="#eaeaff"/>
<rect x="97.67" y="322.97" width="11.76" height="10.01" fill="#edecff"/>
<rect x="108.74" y="322.97" width="11.76" height="10.01" fill="#eaeaff"/>
<rect x="119.80" y="322.97" width="11.76" height="10.01" fill="#eaeaff"/>
<rect x="130.86" y="322.97" width="11.76" height="10.01" fill="#eaeaff"/>
<rect x="141.93" y="322.97" width="11.76" height="10.01" fill="#eaeaff"/>
<rect x="152.99" y="322.97" width="11.76" height="10.01" fill="#eaeaff"/>
<rect x="164.05" y="322.97" width="11.76" height="10.01" fill="#eaeaff"/>
<rect x="175.11" y="322.97" width="11.76" height="10.01" fill="#eaeaff"/>
<rect x="186.18" y="322.97" width="11.76" height="10.01" fill="#eaeaff"/>
<rect x="197.24" y="322.97" width="11.06" height="10.01" fill="#eaeaff"/>
<rect x="31.30" y="332.29" width="11.76" height="10.01" fill="#ffeeee"/>
<rect x="42.36" y="332.29" width="11.76" height="10.01" fill="#ffdede"/>
<rect x="53.42" y="332.29" width="11.76" height="10.01" fill="#fff4f4"/>
<rect x="64.49" y="332.29" width="11.76" height="10.01" fill="#ffdada"/>
<rect x="75.55" y="332.29" width="11.76" height="10.01" fill="#fff2f2"/>
<rect x="86.61" y="332.29" width="11.76" height="10.01" fill="#ffdede"/>
<rect x="97.67" y="332.29" width="11.76" height="10.01" fill="#fff4f4"/>
<rect x="108.74" y="332.29" width="11.76" height="10.01" fill="#ffd8d7"/>
<rect x="119.80" y="332.29" width="11.76" height="10.01" fill="#fff0f0"/>
<rect x="130.86" y="332.29" width="11.76" height="10.01" fill="#ffdede"/>
<rect x="141.93" y="332.29" width="11.76" height="10.01" fill="#fff4f4"/>
<rect x="152.99" y="332.29" width="11.76" height="10.01" fill="#ffdada"/>
<rect x="164.05" y="332.29" width="11.76" height="10.01" fill="#fff6f6"/>
<rect x="175.11" y="332.29" width="11.76" height="10.01" fill="#ffe1e0"/>
<rect x="186.18" y="332.29" width="11.76" height="10.01" fill="#fff2f2"/>
<rect x="197.24" y="332.29" width="11.06" height="10.01" fill="#ffe1e0"/>
<rect x="31.30" y="341.60" width="11.76" height="10.01" fill="#fff6f6"/>
<rect x="42.36" y="341.60" width="11.76" height="10.01" fill="#fff6f6"/>
<rect x="53.42" y="341.60" width="11.76" height="10.01" fill="#fff6f6"/>
<rect x="64.49" y="341.60" width="11.76" height="10.01" fill="#fff6f6"/>
<rect x="75.55" y="341.60" width="11.76" height="10.01" fill="#fff6f6"/>
<rect x="86.61" y="341.60" width="11.76" height="10.01" fill="#fff6f6"/>
<rect x="97.67" y="341.60" width="11.76" height="10.01" fill="#fff6f6"/>
<rect x="108.74" y="341.60" width="11.76" height="10.01" fill="#fff8f8"/>
<rect x="119.80" y="341.60" width="11.76" height="10.01" fill="#fffdfd"/>
<rect x="130.86" y="341.60" width="11.76" height="10.01" fill="#fffdfd"/>
<rect x="141.93" y="341.60" width="11.76" height="10.01" fill="#fffdfd"/>
<rect x="152.99" y="341.60" width="11.76" height="10.01" fill="#fffdfd"/>
<rect x="164.05" y="341.60" width="11.76" height="10.01" fill="#fffdfd"/>
<rect x="175.11" y="341.60" width="11.76" height="10.01" fill="#fffbfb"/>
<rect x="186.18" y="341.60" width="11.76" height="10.01" fill="#fffdfd"/>
<rect x="197.24" y="341.60" width="11.06" height="10.01" fill="#fffdfd"/>
<rect x="31.30" y="350.91" width="11.76" height="10.01" fill="#ffcfce"/>
<rect x="42.36" y="350.91" width="11.76" height="10.01" fill="#ffcfce"/>
<rect x="53.42" y="350.91" width="11.76" height="10.01" fill="#ffcfce"/>
<rect x="64.49" y="350.91" width="11.76" height="10.01" fill="#ffcfce"/>
<rect x="75.55" y="350.91" width="11.76" height="10.01" fill="#ffcfce"/>
<rect x="86.61" y="350.91" width="11.76" height="10.01" fill="#ffcfce"/>
<rect x="97.67" y="350.91" width="11.76" height="10.01" fill="#ffcfce"/>
<rect x="108.74" y="350.91" width="11.76" height="10.01" fill="#ffcfce"/>
<rect x="119.80" y="350.91" width="11.76" height="10.01" fill="#ffcfce"/>
<rect x="130.86" y="350.91" width="11.76" height="10.01" fill="#ffcfce"/>
<rect x="141.93" y="350.91" width="11.76" height="10.01" fill="#ffcfce"/>
<rect x="152.99" y="350.91" width="11.76" height="10.01" fill="#ffcfce"/>
<rect x="164.05" y="350.91" width="11.76" height="10.01" fill="#ffcfce"/>
<rect x="175.11" y="350.91" width="11.76" height="10.01" fill="#ffcfce"/>
<rect x="186.18" y="350.91" width="11.76" height="10.01" fill="#ffcfce"/>
<rect x="197.24" y="350.91" width="11.06" height="10.01" fill="#ffcfce"/>
<rect x="31.30" y="360.23" width="11.76" height="10.01" fill="#eaeaff"/>
<rect x="42.36" y="360.23" width="11.76" height="10.01" fill="#f9f9ff"/>
<rect x="53.42" y="360.23" width="11.76" height="10.01" fill="#f1f0ff"/>
<rect x="64.49" y="360.23" width="11.76" height="10.01" fill="#f9f9ff"/>
<rect x="75.55" y="360.23" width="11.76" height="10.01" fill="#efeeff"/>
<rect x="86.61" y="360.23" width="11.76" height="10.01" fill="#fbfbff"/>
<rect x="97.67" y="360.23" width="11.76" height="10.01" fill="#f9f9ff"/>
<rect x="108.74" y="360.23" width="11.76" height="10.01" fill="#fbfbff"/>
<rect x="119.80" y="360.23" width="11.76" height="10.01" fill="#efeeff"/>
<rect x="130.86" y="360.23" width="11.76" height="10.01" fill="#fbfbff"/>
<rect x="141.93" y="360.23" width="11.76" height="10.01" fill="#eaeaff"/>
<rect x="152.99" y="360.23" width="11.76" height="10.01" fill="#fdfdff"/>
<rect x="164.05" y="360.23" width="11.76" height="10.01" fill="#efeeff"/>
<rect x="175.11" y="360.23" width="11.76" height="10.01" fill="#fbfbff"/>
<rect x="186.18" y="360.23" width="11.76" height="10.01" fill="#efeeff"/>
<rect x="197.24" y="360.23" width="11.06" height="10.01" fill="#f9f9ff"/>
<rect x="31.30" y="369.54" width="11.76" height="10.01" fill="#fff6f6"/>
<rect x="42.36" y="369.54" width="11.76" height="10.01" fill="#fff6f6"/>
<rect x="53.42" y="369.54" width="11.76" height="10.01" fill="#fff6f6"/>
<rect x="64.49" y="369.54" width="11.76" height="10.01" fill="#fff6f6"/>
<rect x="75.55" y="369.54" width="11.76" height="10.01" fill="#fff6f6"/>
<rect x="86.61" y="369.54" width="11.76" height="10.01" fill="#fff6f6"/>
<rect x="97.67" y="369.54" width="11.76" height="10.01" fill="#fff6f6"/>
<rect x="108.74" y="369.54" width="11.76" height="10.01" fill="#fff6f6"/>
<rect x="119.80" y="369.54" width="11.76" height="10.01" fill="#fffbfb"/>
<rect x="130.86" y="369.54" width="11.76" height="10.01" fill="#fff8f8"/>
<rect x="141.93" y="369.54" width="11.76" height="10.01" fill="#fffbfb"/>
<rect x="152.99" y="369.54" width="11.76" height="10.01" fill="#fff8f8"/>
<rect x="164.05" y="369.54" width="11.76" height="10.01" fill="#fffbfb"/>
<rect x="175.11" y="369.54" width="11.76" height="10.01" fill="#fff8f8"/>
<rect x="186.18" y="369.54" width="11.76" height="10.01" fill="#fffbfb"/>
<rect x="197.24" y="369.54" width="11.06" height="10.01" fill="#fff8f8"/>
<rect x="31.30" y="378.86" width="11.76" height="10.01" fill="#ffc9c8"/>
<rect x="42.36" y="378.86" width="11.76" height="10.01" fill="#ffc9c8"/>
<rect x="53.42" y="378.86" width="11.76" height="10.01" fill="#ffc7c5"/>
<rect x="64.49" y="378.86" width="11.76" height="10.01" fill="#ffc7c5"/>
<rect x="75.55" y="378.86" width="11.76" height="10.01" fill="#ffc4c3"/>
<rect x="86.61" y="378.86" width="11.76" height="10.01" fill="#ffc7c5"/>
<rect x="97.67" y="378.86" width="11.76" height="10.01" fill="#ffc7c5"/>
<rect x="108.74" y="378.86" width="11.76" height="10.01" fill="#ffc9c8"/>
<rect x="119.80" y="378.86" width="11.76" height="10.01" fill="#ffc9c8"/>
<rect x="130.86" y="378.86" width="11.76" height="10.01" fill="#ffc9c8"/>
<rect x="141.93" y="378.86" width="11.76" height="10.01" fill="#ffc9c8"/>
<rect x="152.99" y="378.86" width="11.76" height="10.01" fill="#ffc9c8"/>
<rect x="164.05" y="378.86" width="11.76" height="10.01" fill="#ffc9c8"/>
<rect x="175.11" y="378.86" width="11.76" height="10.01" fill="#ffc9c8"/>
<rect x="186.18" y="378.86" width="11.76" height="10.01" fill="#ffc9c8"/>
<rect x="197.24" y="378.86" width="11.06" height="10.01" fill="#ffc9c8"/>
<rect x="31.30" y="388.17" width="11.76" height="10.01" fill="#f3f2ff"/>
<rect x="42.36" y="388.17" width="11.76" height="10.01" fill="#ffffff"/>
<rect x="53.42" y="388.17" width="11.76" height="10.01" fill="#ffffff"/>
<rect x="64.49" y="388.17" width="11.76" height="10.01" fill="#ffffff"/>
<rect x="75.55" y="388.17" width="11.76" height="10.01" fill="#ffffff"/>
<rect x="86.61" y="388.17" width="11.76" height="10.01" fill="#ffffff"/>
<rect x="97.67" y="388.17" width="11.76" height="10.01" fill="#ffffff"/>
<rect x="108.74" y="388.17" width="11.76" height="10.01" fill="#ffffff"/>
<rect x="119.80" y="388.17" width="11.76" height="10.01" fill="#fff8f8"/>
<rect x="130.86" y="388.17" width="11.76" height="10.01" fill="#fff8f8"/>
<rect x="141.93" y="388.17" width="11.76" height="10.01" fill="#fff8f8"/>
<rect x="152.99" y="388.17" width="11.76" height="10.01" fill="#fff8f8"/>
<rect x="164.05" y="388.17" width="11.76" height="10.01" fill="#fff8f8"/>
<rect x="175.11" y="388.17" width="11.76" height="10.01" fill="#fff8f8"/>
<rect x="186.18" y="388.17" width="11.76" height="10.01" fill="#fff8f8"/>
<rect x="197.24" y="388.17" width="11.06" height="10.01" fill="#fff8f8"/>
<rect x="31.30" y="397.49" width="11.76" height="10.01" fill="#fffdfd"/>
<rect x="42.36" y="397.49" width="11.76" height="10.01" fill="#ffe9e9"/>
<rect x="53.42" y="397.49" width="11.76" height="10.01" fill="#ffffff"/>
<rect x="64.49" y="397.49" width="11.76" height="10.01" fill="#ffe9e9"/>
<rect x="75.55" y="397.49" width="11.76" height="10.01" fill="#fffbfb"/>
<rect x="86.61" y="397.49" width="11.76" height="10.01" fill="#ffe9e9"/>
<rect x="97.67" y="397.49" width="11.76" height="10.01" fill="#ffffff"/>
<rect x="108.74" y="397.49" width="11.76" height="10.01" fill="#ffe5e5"/>
<rect x="119.80" y="397.49" width="11.76" height="10.01" fill="#fff8f8"/>
<rect x="130.86" y="397.49" width="11.76" height="10.01" fill="#ffe5e5"/>
<rect x="141.93" y="397.49" width="11.76" height="10.01" fill="#fff8f8"/>
<rect x="152.99" y="397.49" width="11.76" height="10.01" fill="#ffe1e0"/>
<rect x="164.05" y="397.49" width="11.76" height="10.01" fill="#fff8f8"/>
<rect x="175.11" y="397.49" width="11.76" height="10.01" fill="#ffe5e5"/>
<rect x="186.18" y="397.49" width="11.76" height="10.01" fill="#fff8f8"/>
<rect x="197.24" y="397.49" width="11.06" height="10.01" fill="#ffdede"/>
<rect x="31.30" y="406.80" width="11.76" height="10.01" fill="#f9f9ff"/>
<rect x="42.36" y="406.80" width="11.76" height="10.01" fill="#fffbfb"/>
<rect x="53.42" y="406.80" width="11.76" height="10.01" fill="#f5f4ff"/>
<rect x="64.49" y="406.80" width="11.76" height="10.01" fill="#ffffff"/>
<rect x="75.55" y="406.80" width="11.76" height="10.01" fill="#f5f4ff"/>
<rect x="86.61" y="406.80" width="11.76" height="10.01" fill="#fdfdff"/>
<rect x="97.67" y="406.80" width="11.76" height="10.01" fill="#f5f4ff"/>
<rect x="108.74" y="406.80" width="11.76" height="10.01" fill="#ffffff"/>
<rect x="119.80" y="406.80" width="11.76" height="10.01" fill="#f5f4ff"/>
<rect x="130.86" y="406.80" width="11.76" height="10.01" fill="#ffffff"/>
<rect x="141.93" y="406.80" width="11.76" height="10.01" fill="#f7f7ff"/>
<rect x="152.99" y="406.80" width="11.76" height="10.01" fill="#fffdfd"/>
<rect x="164.05" y="406.80" width="11.76" height="10.01" fill="#f9f9ff"/>
<rect x="175.11" y="406.80" width="11.76" height="10.01" fill="#ffffff"/>
<rect x="186.18" y="406.80" width="11.76" height="10.01" fill="#f7f7ff"/>
<rect x="197.24" y="406.80" width="11.06" height="10.01" fill="#ffffff"/>
<rect x="31.30" y="416.11" width="11.76" height="10.01" fill="#fbfbff"/>
<rect x="42.36" y="416.11" width="11.76" height="10.01" fill="#f5f4ff"/>
<rect x="53.42" y="416.11" width="11.76" height="10.01" fill="#fbfbff"/>
<rect x="64.49" y="416.11" width="11.76" height="10.01" fill="#f3f2ff"/>
<rect x="75.55" y="416.11" width="11.76" height="10.01" fill="#fbfbff"/>
<rect x="86.61" y="416.11" width="11.76" height="10.01" fill="#f5f4ff"/>
<rect x="97.67" y="416.11" width="11.76" height="10.01" fill="#f9f9ff"/>
<rect x="108.74" y="416.11" width="11.76" height="10.01" fill="#f3f2ff"/>
<rect x="119.80" y="416.11" width="11.76" height="10.01" fill="#fbfbff"/>
<rect x="130.86" y="416.11" width="11.76" height="10.01" fill="#f5f4ff"/>
<rect x="141.93" y="416.11" width="11.76" height="10.01" fill="#fbfbff"/>
<rect x="152.99" y="416.11" width="11.76" height="10.01" fill="#f3f2ff"/>
<rect x="164.05" y="416.11" width="11.76" height="10.01" fill="#fbfbff"/>
<rect x="175.11" y="416.11" width="11.76" height="10.01" fill="#f5f4ff"/>
<rect x="186.18" y="416.11" width="11.76" height="10.01" fill="#fbfbff"/>
<rect x="197.24" y="416.11" width="11.06" height="10.01" fill="#f5f4ff"/>
<rect x="31.30" y="425.43" width="11.76" height="10.01" fill="#ffdede"/>
<rect x="42.36" y="425.43" width="11.76" height="10.01" fill="#fff0f0"/>
<rect x="53.42" y="425.43" width="11.76" height="10.01" fill="#ffdada"/>
<rect x="64.49" y="425.43" width="11.76" height="10.01" fill="#ffeeee"/>
<rect x="75.55" y="425.43" width="11.76" height="10.01" fill="#ffd4d3"/>
<rect x="86.61" y="425.43" width="11.76" height="10.01" fill="#fff0f0"/>
<rect x="97.67" y="425.43" width="11.76" height="10.01" fill="#ffd4d3"/>
<rect x="108.74" y="425.43" width="11.76" height="10.01" fill="#fff8f8"/>
<rect x="119.80" y="425.43" width="11.76" height="10.01" fill="#ffd4d3"/>
<rect x="130.86" y="425.43" width="11.76" height="10.01" fill="#fff0f0"/>
<rect x="141.93" y="425.43" width="11.76" height="10.01" fill="#ffd4d3"/>
<rect x="152.99" y="425.43" width="11.76" height="10.01" fill="#fff0f0"/>
<rect x="164.05" y="425.43" width="11.76" height="10.01" fill="#ffd8d7"/>
<rect x="175.11" y="425.43" width="11.76" height="10.01" fill="#fff0f0"/>
<rect x="186.18" y="425.43" width="11.76" height="10.01" fill="#ffd8d7"/>
<rect x="197.24" y="425.43" width="11.06" height="10.01" fill="#fff4f4"/>
<rect x="31.30" y="434.74" width="11.76" height="10.01" fill="#efeeff"/>
<rect x="42.36" y="434.74" width="11.76" height="10.01" fill="#efeeff"/>
<rect x="53.42" y="434.74" width="11.76" height="10.01" fill="#efeeff"/>
<rect x="64.49" y="434.74" width="11.76" height="10.01" fill="#efeeff"/>
<rect x="75.55" y="434.74" width="11.76" height="10.01" fill="#efeeff"/>
<rect x="86.61" y="434.74" width="11.76" height="10.01" fill="#efeeff"/>
<rect x="97.67" y="434.74" width="11.76" height="10.01" fill="#efeeff"/>
<rect x="108.74" y="434.74" width="11.76" height="10.01" fill="#efeeff"/>
<rect x="119.80" y="434.74" width="11.76" height="10.01" fill="#edecff"/>
<rect x="130.86" y="434.74" width="11.76" height="10.01" fill="#edecff"/>
<rect x="141.93" y="434.74" width="11.76" height="10.01" fill="#edecff"/>
<rect x="152.99" y="434.74" width="11.76" height="10.01" fill="#efeeff"/>
<rect x="164.05" y="434.74" width="11.76" height="10.01" fill="#efeeff"/>
<rect x="175.11" y="434.74" width="11.76" height="10.01" fill="#efeeff"/>
<rect x="186.18" y="434.74" width="11.76" height="10.01" fill="#efeeff"/>
<rect x="197.24" y="434.74" width="11.06" height="10.01" fill="#efeeff"/>
<rect x="31.30" y="444.06" width="11.76" height="10.01" fill="#f3f2ff"/>
<rect x="42.36" y="444.06" width="11.76" height="10.01" fill="#efeeff"/>
<rect x="53.42" y="444.06" width="11.76" height="10.01" fill="#efeeff"/>
<rect x="64.49" y="444.06" width="11.76" height="10.01" fill="#efeeff"/>
<rect x="75.55" y="444.06" width="11.76" height="10.01" fill="#efeeff"/>
<rect x="86.61" y="444.06" width="11.76" height="10.01" fill="#efeeff"/>
<rect x="97.67" y="444.06" width="11.76" height="10.01" fill="#efeeff"/>
<rect x="108.74" y="444.06" width="11.76" height="10.01" fill="#efeeff"/>
<rect x="119.80" y="444.06" width="11.76" height="10.01" fill="#efeeff"/>
<rect x="130.86" y="444.06" width="11.76" height="10.01" fill="#efeeff"/>
<rect x="141.93" y="444.06" width="11.76" height="10.01" fill="#efeeff"/>
<rect x="152.99" y="444.06" width="11.76" height="10.01" fill="#efeeff"/>
<rect x="164.05" y="444.06" width="11.76" height="10.01" fill="#efeeff"/>
<rect x="175.11" y="444.06" width="11.76" height="10.01" fill="#efeeff"/>
<rect x="186.18" y="444.06" width="11.76" height="10.01" fill="#efeeff"/>
<rect x="197.24" y="444.06" width="11.06" height="10.01" fill="#efeeff"/>
<rect x="31.30" y="453.37" width="11.76" height="10.01" fill="#fff4f4"/>
<rect x="42.36" y="453.37" width="11.76" height="10.01" fill="#fff4f4"/>
<rect x="53.42" y="453.37" width="11.76" height="10.01" fill="#fff4f4"/>
<rect x="64.49" y="453.37" width="11.76" height="10.01" fill="#fff4f4"/>
<rect x="75.55" y="453.37" width="11.76" height="10.01" fill="#fff4f4"/>
<rect x="86.61" y="453.37" width="11.76" height="10.01" fill="#fff4f4"/>
<rect x="97.67" y="453.37" width="11.76" height="10.01" fill="#fff4f4"/>
<rect x="108.74" y="453.37" width="11.76" height="10.01" fill="#fff4f4"/>
<rect x="119.80" y="453.37" width="11.76" height="10.01" fill="#fff4f4"/>
<rect x="130.86" y="453.37" width="11.76" height="10.01" fill="#fff4f4"/>
<rect x="141.93" y="453.37" width="11.76" height="10.01" fill="#fff4f4"/>
<rect x="152.99" y="453.37" width="11.76" height="10.01" fill="#ffffff"/>
<rect x="164.05" y="453.37" width="11.76" height="10.01" fill="#fff4f4"/>
<rect x="175.11" y="453.37" width="11.76" height="10.01" fill="#fff4f4"/>
<rect x="186.18" y="453.37" width="11.76" height="10.01" fill="#fff0f0"/>
<rect x="197.24" y="453.37" width="11.06" height="10.01" fill="#fff4f4"/>
<rect x="31.30" y="462.69" width="11.76" height="9.31" fill="#fff4f4"/>
<rect x="42.36" y="462.69" width="11.76" height="9.31" fill="#fffbfb"/>
<rect x="53.42" y="462.69" width="11.76" height="9.31" fill="#fffbfb"/>
<rect x="64.49" y="462.69" width="11.76" height="9.31" fill="#fffdfd"/>
<rect x="75.55" y="462.69" width="11.76" height="9.31" fill="#fffdfd"/>
<rect x="86.61" y="462.69" width="11.76" height="9.31" fill="#fffdfd"/>
<rect x="97.67" y="462.69" width="11.76" height="9.31" fill="#fffdfd"/>
<rect x="108.74" y="462.69" width="11.76" height="9.31" fill="#fffdfd"/>
<rect x="119.80" y="462.69" width="11.76" height="9.31" fill="#fffdfd"/>
<rect x="130.86" y="462.69" width="11.76" height="9.31" fill="#fffdfd"/>
<rect x="141.93" y="462.69" width="11.76" height="9.31" fill="#fffdfd"/>
<rect x="152.99" y="462.69" width="11.76" height="9.31" fill="#f9f9ff"/>
<rect x="164.05" y="462.69" width="11.76" height="9.31" fill="#fffdfd"/>
<rect x="175.11" y="462.69" width="11.76" height="9.31" fill="#fffdfd"/>
<rect x="186.18" y="462.69" width="11.76" height="9.31" fill="#fffbfb"/>
<rect x="197.24" y="462.69" width="11.06" height="9.31" fill="#fffbfb"/>
<line x1="31.30" y1="276.40" x2="208.30" y2="276.40" stroke="#111" stroke-width="1.3"/>
<line x1="31.30" y1="275.80" x2="31.30" y2="472.60" stroke="#111" stroke-width="1.3"/>
<line x1="208.30" y1="275.80" x2="208.30" y2="472.60" stroke="#555" stroke-width="1.30"/>
<line x1="31.30" y1="472.00" x2="208.30" y2="472.00" stroke="#333" stroke-width="1.30"/>
<text x="25.10" y="281.46" font-size="8.2" font-weight="bold" text-anchor="middle" dominant-baseline="central">A</text>
<text x="25.10" y="290.77" font-size="8.2" font-weight="bold" text-anchor="middle" dominant-baseline="central">C</text>
<text x="25.10" y="300.09" font-size="8.2" font-weight="bold" text-anchor="middle" dominant-baseline="central">D</text>
<text x="25.10" y="309.40" font-size="8.2" font-weight="bold" text-anchor="middle" dominant-baseline="central">E</text>
<text x="25.10" y="318.71" font-size="8.2" font-weight="bold" text-anchor="middle" dominant-baseline="central">F</text>
<text x="25.10" y="328.03" font-size="8.2" font-weight="bold" text-anchor="middle" dominant-baseline="central">G</text>
<text x="25.10" y="337.34" font-size="8.2" font-weight="bold" text-anchor="middle" dominant-baseline="central">H</text>
<text x="25.10" y="346.66" font-size="8.2" font-weight="bold" text-anchor="middle" dominant-baseline="central">I</text>
<text x="25.10" y="355.97" font-size="8.2" font-weight="bold" text-anchor="middle" dominant-baseline="central">K</text>
<text x="25.10" y="365.29" font-size="8.2" font-weight="bold" text-anchor="middle" dominant-baseline="central">L</text>
<text x="25.10" y="374.60" font-size="8.2" font-weight="bold" text-anchor="middle" dominant-baseline="central">M</text>
<text x="25.10" y="383.91" font-size="8.2" font-weight="bold" text-anchor="middle" dominant-baseline="central">N</text>
<text x="25.10" y="393.23" font-size="8.2" font-weight="bold" text-anchor="middle" dominant-baseline="central">P</text>
<text x="25.10" y="402.54" font-size="8.2" font-weight="bold" text-anchor="middle" dominant-baseline="central">Q</text>
<text x="25.10" y="411.86" font-size="8.2" font-weight="bold" text-anchor="middle" dominant-baseline="central">R</text>
<text x="25.10" y="421.17" font-size="8.2" font-weight="bold" text-anchor="middle" dominant-baseline="central">S</text>
<text x="25.10" y="430.49" font-size="8.2" font-weight="bold" text-anchor="middle" dominant-baseline="central">T</text>
<text x="25.10" y="439.80" font-size="8.2" font-weight="bold" text-anchor="middle" dominant-baseline="central">V</text>
<text x="25.10" y="449.11" font-size="8.2" font-weight="bold" text-anchor="middle" dominant-baseline="central">W</text>
<text x="25.10" y="458.43" font-size="8.2" font-weight="bold" text-anchor="middle" dominant-baseline="central">Y</text>
<text x="25.10" y="467.74" font-size="8.2" font-weight="bold" text-anchor="middle" dominant-baseline="central">q</text>
<text x="36.83" y="479.40" font-size="8" font-weight="bold" text-anchor="middle" dominant-baseline="central">1</text>
<text x="47.89" y="479.40" font-size="8" font-weight="bold" text-anchor="middle" dominant-baseline="central">2</text>
<text x="58.96" y="479.40" font-size="8" font-weight="bold" text-anchor="middle" dominant-baseline="central">3</text>
<text x="70.02" y="479.40" font-size="8" font-weight="bold" text-anchor="middle" dominant-baseline="central">4</text>
<text x="81.08" y="479.40" font-size="8" font-weight="bold" text-anchor="middle" dominant-baseline="central">5</text>
<text x="92.14" y="479.40" font-size="8" font-weight="bold" text-anchor="middle" dominant-baseline="central">6</text>
<text x="103.21" y="479.40" font-size="8" font-weight="bold" text-anchor="middle" dominant-baseline="central">7</text>
<text x="114.27" y="479.40" font-size="8" font-weight="bold" text-anchor="middle" dominant-baseline="central">8</text>
<text x="125.33" y="479.40" font-size="8" font-weight="bold" text-anchor="middle" dominant-baseline="central">9</text>
<text x="136.39" y="479.40" font-size="8" font-weight="bold" text-anchor="middle" dominant-baseline="central">10</text>
<text x="147.46" y="479.40" font-size="8" font-weight="bold" text-anchor="middle" dominant-baseline="central">11</text>
<text x="158.52" y="479.40" font-size="8" font-weight="bold" text-anchor="middle" dominant-baseline="central">12</text>
<text x="169.58" y="479.40" font-size="8" font-weight="bold" text-anchor="middle" dominant-baseline="central">13</text>
<text x="180.64" y="479.40" font-size="8" font-weight="bold" text-anchor="middle" dominant-baseline="central">14</text>
<text x="191.71" y="479.40" font-size="8" font-weight="bold" text-anchor="middle" dominant-baseline="central">15</text>
<text x="202.77" y="479.40" font-size="8" font-weight="bold" text-anchor="middle" dominant-baseline="central">16</text>
<text x="119.80" y="490.80" font-size="7.7" font-weight="bold" text-anchor="middle" dominant-baseline="central">amino acid position</text>
<text x="118.90" y="267.90" font-size="8.9" font-weight="bold" text-anchor="middle" dominant-baseline="central">pSD pIII-VHH_16mer</text>
<text transform="translate(13.70,372.70) rotate(-90)" font-size="7.8" font-weight="bold" text-anchor="middle" dominant-baseline="central">amino acids</text>
<text x="1.60" y="286.10" font-size="12.2" font-weight="bold" style="stroke-width:0.35px">d</text>
<defs><linearGradient id="gd" x1="0" y1="0" x2="0" y2="1">
<stop offset="0.000" stop-color="#ff2600"/>
<stop offset="0.050" stop-color="#ff3c24"/>
<stop offset="0.100" stop-color="#ff5141"/>
<stop offset="0.150" stop-color="#ff675c"/>
<stop offset="0.200" stop-color="#ff7d75"/>
<stop offset="0.250" stop-color="#ff928d"/>
<stop offset="0.300" stop-color="#ffa8a5"/>
<stop offset="0.350" stop-color="#ffbebc"/>
<stop offset="0.400" stop-color="#ffd4d3"/>
<stop offset="0.450" stop-color="#ffe9e9"/>
<stop offset="0.500" stop-color="#ffffff"/>
<stop offset="0.550" stop-color="#eaeaff"/>
<stop offset="0.600" stop-color="#d6d5ff"/>
<stop offset="0.650" stop-color="#c0c0ff"/>
<stop offset="0.700" stop-color="#aaabff"/>
<stop offset="0.750" stop-color="#9496ff"/>
<stop offset="0.800" stop-color="#7d81ff"/>
<stop offset="0.850" stop-color="#656cff"/>
<stop offset="0.900" stop-color="#4c57ff"/>
<stop offset="0.950" stop-color="#3142ff"/>
<stop offset="1.000" stop-color="#0f2dff"/>
</linearGradient></defs>
<rect x="216.70" y="276.40" width="9.10" height="194.80" fill="url(#gd)" stroke="#444" stroke-width="0.9"/>
<line x1="216.70" y1="308.87" x2="218.30" y2="308.87" stroke="#222" stroke-width="0.9"/>
<line x1="224.20" y1="308.87" x2="225.80" y2="308.87" stroke="#222" stroke-width="0.9"/>
<text x="229.20" y="309.22" font-size="8.30" dominant-baseline="central" style="stroke-width:0.22px">2</text>
<line x1="216.70" y1="373.80" x2="218.30" y2="373.80" stroke="#222" stroke-width="0.9"/>
<line x1="224.20" y1="373.80" x2="225.80" y2="373.80" stroke="#222" stroke-width="0.9"/>
<text x="229.20" y="374.15" font-size="8.30" dominant-baseline="central" style="stroke-width:0.22px">0</text>
<line x1="216.70" y1="438.73" x2="218.30" y2="438.73" stroke="#222" stroke-width="0.9"/>
<line x1="224.20" y1="438.73" x2="225.80" y2="438.73" stroke="#222" stroke-width="0.9"/>
<text x="229.20" y="439.08" font-size="8.30" dominant-baseline="central" style="stroke-width:0.22px">-2</text>
<rect x="330.60" y="274.40" width="11.01" height="10.18" fill="#e4e4ff"/>
<rect x="340.91" y="274.40" width="11.01" height="10.18" fill="#ffffff"/>
<rect x="351.22" y="274.40" width="11.01" height="10.18" fill="#e6e6ff"/>
<rect x="361.53" y="274.40" width="11.01" height="10.18" fill="#ffffff"/>
<rect x="371.84" y="274.40" width="11.01" height="10.18" fill="#ffffff"/>
<rect x="382.15" y="274.40" width="11.01" height="10.18" fill="#eaeaff"/>
<rect x="392.46" y="274.40" width="11.01" height="10.18" fill="#f1f0ff"/>
<rect x="402.77" y="274.40" width="11.01" height="10.18" fill="#f1f0ff"/>
<rect x="413.08" y="274.40" width="11.01" height="10.18" fill="#eaeaff"/>
<rect x="423.39" y="274.40" width="11.01" height="10.18" fill="#fffbfb"/>
<rect x="433.70" y="274.40" width="11.01" height="10.18" fill="#fffbfb"/>
<rect x="444.00" y="274.40" width="11.01" height="10.18" fill="#fbfbff"/>
<rect x="454.31" y="274.40" width="11.01" height="10.18" fill="#eaeaff"/>
<rect x="464.62" y="274.40" width="11.01" height="10.18" fill="#fffbfb"/>
<rect x="474.93" y="274.40" width="11.01" height="10.18" fill="#f9f9ff"/>
<rect x="485.24" y="274.40" width="11.01" height="10.18" fill="#eaeaff"/>
<rect x="495.55" y="274.40" width="11.01" height="10.18" fill="#eaeaff"/>
<rect x="505.86" y="274.40" width="11.01" height="10.18" fill="#fff6f6"/>
<rect x="516.17" y="274.40" width="11.01" height="10.18" fill="#efeeff"/>
<rect x="526.48" y="274.40" width="11.01" height="10.18" fill="#efeeff"/>
<rect x="536.79" y="274.40" width="10.31" height="10.18" fill="#fff0f0"/>
<rect x="330.60" y="283.88" width="11.01" height="10.18" fill="#fff4f4"/>
<rect x="340.91" y="283.88" width="11.01" height="10.18" fill="#fffdfd"/>
<rect x="351.22" y="283.88" width="11.01" height="10.18" fill="#ffffff"/>
<rect x="361.53" y="283.88" width="11.01" height="10.18" fill="#ffffff"/>
<rect x="371.84" y="283.88" width="11.01" height="10.18" fill="#fffbfb"/>
<rect x="382.15" y="283.88" width="11.01" height="10.18" fill="#fff8f8"/>
<rect x="392.46" y="283.88" width="11.01" height="10.18" fill="#fff6f6"/>
<rect x="402.77" y="283.88" width="11.01" height="10.18" fill="#fff6f6"/>
<rect x="413.08" y="283.88" width="11.01" height="10.18" fill="#fffbfb"/>
<rect x="423.39" y="283.88" width="11.01" height="10.18" fill="#ffffff"/>
<rect x="433.70" y="283.88" width="11.01" height="10.18" fill="#ffffff"/>
<rect x="444.00" y="283.88" width="11.01" height="10.18" fill="#fbfbff"/>
<rect x="454.31" y="283.88" width="11.01" height="10.18" fill="#fff8f8"/>
<rect x="464.62" y="283.88" width="11.01" height="10.18" fill="#ffffff"/>
<rect x="474.93" y="283.88" width="11.01" height="10.18" fill="#fbfbff"/>
<rect x="485.24" y="283.88" width="11.01" height="10.18" fill="#ffffff"/>
<rect x="495.55" y="283.88" width="11.01" height="10.18" fill="#ffffff"/>
<rect x="505.86" y="283.88" width="11.01" height="10.18" fill="#ffffff"/>
<rect x="516.17" y="283.88" width="11.01" height="10.18" fill="#ffffff"/>
<rect x="526.48" y="283.88" width="11.01" height="10.18" fill="#fff6f6"/>
<rect x="536.79" y="283.88" width="10.31" height="10.18" fill="#ffffff"/>
<rect x="330.60" y="293.36" width="11.01" height="10.18" fill="#fff0f0"/>
<rect x="340.91" y="293.36" width="11.01" height="10.18" fill="#ffe9e9"/>
<rect x="351.22" y="293.36" width="11.01" height="10.18" fill="#ffebeb"/>
<rect x="361.53" y="293.36" width="11.01" height="10.18" fill="#ffebeb"/>
<rect x="371.84" y="293.36" width="11.01" height="10.18" fill="#ffeeee"/>
<rect x="382.15" y="293.36" width="11.01" height="10.18" fill="#ffdede"/>
<rect x="392.46" y="293.36" width="11.01" height="10.18" fill="#ffe3e3"/>
<rect x="402.77" y="293.36" width="11.01" height="10.18" fill="#ffe5e5"/>
<rect x="413.08" y="293.36" width="11.01" height="10.18" fill="#fff0f0"/>
<rect x="423.39" y="293.36" width="11.01" height="10.18" fill="#fff2f2"/>
<rect x="433.70" y="293.36" width="11.01" height="10.18" fill="#ffeeee"/>
<rect x="444.00" y="293.36" width="11.01" height="10.18" fill="#fff4f4"/>
<rect x="454.31" y="293.36" width="11.01" height="10.18" fill="#ffdede"/>
<rect x="464.62" y="293.36" width="11.01" height="10.18" fill="#ffe9e9"/>
<rect x="474.93" y="293.36" width="11.01" height="10.18" fill="#fff4f4"/>
<rect x="485.24" y="293.36" width="11.01" height="10.18" fill="#ffe9e9"/>
<rect x="495.55" y="293.36" width="11.01" height="10.18" fill="#ffeeee"/>
<rect x="505.86" y="293.36" width="11.01" height="10.18" fill="#ffeeee"/>
<rect x="516.17" y="293.36" width="11.01" height="10.18" fill="#fff0f0"/>
<rect x="526.48" y="293.36" width="11.01" height="10.18" fill="#fff0f0"/>
<rect x="536.79" y="293.36" width="10.31" height="10.18" fill="#fff0f0"/>
<rect x="330.60" y="302.84" width="11.01" height="10.18" fill="#fff0f0"/>
<rect x="340.91" y="302.84" width="11.01" height="10.18" fill="#ffeeee"/>
<rect x="351.22" y="302.84" width="11.01" height="10.18" fill="#ffeeee"/>
<rect x="361.53" y="302.84" width="11.01" height="10.18" fill="#fff0f0"/>
<rect x="371.84" y="302.84" width="11.01" height="10.18" fill="#fff2f2"/>
<rect x="382.15" y="302.84" width="11.01" height="10.18" fill="#ffe5e5"/>
<rect x="392.46" y="302.84" width="11.01" height="10.18" fill="#ffe9e9"/>
<rect x="402.77" y="302.84" width="11.01" height="10.18" fill="#ffe9e9"/>
<rect x="413.08" y="302.84" width="11.01" height="10.18" fill="#fff4f4"/>
<rect x="423.39" y="302.84" width="11.01" height="10.18" fill="#fff6f6"/>
<rect x="433.70" y="302.84" width="11.01" height="10.18" fill="#ffeeee"/>
<rect x="444.00" y="302.84" width="11.01" height="10.18" fill="#fff6f6"/>
<rect x="454.31" y="302.84" width="11.01" height="10.18" fill="#ffe5e5"/>
<rect x="464.62" y="302.84" width="11.01" height="10.18" fill="#ffeeee"/>
<rect x="474.93" y="302.84" width="11.01" height="10.18" fill="#fff8f8"/>
<rect x="485.24" y="302.84" width="11.01" height="10.18" fill="#fff2f2"/>
<rect x="495.55" y="302.84" width="11.01" height="10.18" fill="#fff4f4"/>
<rect x="505.86" y="302.84" width="11.01" height="10.18" fill="#fff4f4"/>
<rect x="516.17" y="302.84" width="11.01" height="10.18" fill="#fff6f6"/>
<rect x="526.48" y="302.84" width="11.01" height="10.18" fill="#fff8f8"/>
<rect x="536.79" y="302.84" width="10.31" height="10.18" fill="#fff4f4"/>
<rect x="330.60" y="312.32" width="11.01" height="10.18" fill="#fffdfd"/>
<rect x="340.91" y="312.32" width="11.01" height="10.18" fill="#f5f4ff"/>
<rect x="351.22" y="312.32" width="11.01" height="10.18" fill="#f7f7ff"/>
<rect x="361.53" y="312.32" width="11.01" height="10.18" fill="#f5f4ff"/>
<rect x="371.84" y="312.32" width="11.01" height="10.18" fill="#f9f9ff"/>
<rect x="382.15" y="312.32" width="11.01" height="10.18" fill="#fbfbff"/>
<rect x="392.46" y="312.32" width="11.01" height="10.18" fill="#fbfbff"/>
<rect x="402.77" y="312.32" width="11.01" height="10.18" fill="#fbfbff"/>
<rect x="413.08" y="312.32" width="11.01" height="10.18" fill="#f7f7ff"/>
<rect x="423.39" y="312.32" width="11.01" height="10.18" fill="#f7f7ff"/>
<rect x="433.70" y="312.32" width="11.01" height="10.18" fill="#f9f9ff"/>
<rect x="444.00" y="312.32" width="11.01" height="10.18" fill="#f5f4ff"/>
<rect x="454.31" y="312.32" width="11.01" height="10.18" fill="#fbfbff"/>
<rect x="464.62" y="312.32" width="11.01" height="10.18" fill="#f7f7ff"/>
<rect x="474.93" y="312.32" width="11.01" height="10.18" fill="#f3f2ff"/>
<rect x="485.24" y="312.32" width="11.01" height="10.18" fill="#f9f9ff"/>
<rect x="495.55" y="312.32" width="11.01" height="10.18" fill="#f7f7ff"/>
<rect x="505.86" y="312.32" width="11.01" height="10.18" fill="#f9f9ff"/>
<rect x="516.17" y="312.32" width="11.01" height="10.18" fill="#f9f9ff"/>
<rect x="526.48" y="312.32" width="11.01" height="10.18" fill="#f9f9ff"/>
<rect x="536.79" y="312.32" width="10.31" height="10.18" fill="#e6e6ff"/>
<rect x="330.60" y="321.80" width="11.01" height="10.18" fill="#f9f9ff"/>
<rect x="340.91" y="321.80" width="11.01" height="10.18" fill="#f9f9ff"/>
<rect x="351.22" y="321.80" width="11.01" height="10.18" fill="#fbfbff"/>
<rect x="361.53" y="321.80" width="11.01" height="10.18" fill="#fbfbff"/>
<rect x="371.84" y="321.80" width="11.01" height="10.18" fill="#fbfbff"/>
<rect x="382.15" y="321.80" width="11.01" height="10.18" fill="#fbfbff"/>
<rect x="392.46" y="321.80" width="11.01" height="10.18" fill="#fbfbff"/>
<rect x="402.77" y="321.80" width="11.01" height="10.18" fill="#fbfbff"/>
<rect x="413.08" y="321.80" width="11.01" height="10.18" fill="#f5f4ff"/>
<rect x="423.39" y="321.80" width="11.01" height="10.18" fill="#f3f2ff"/>
<rect x="433.70" y="321.80" width="11.01" height="10.18" fill="#f9f9ff"/>
<rect x="444.00" y="321.80" width="11.01" height="10.18" fill="#f3f2ff"/>
<rect x="454.31" y="321.80" width="11.01" height="10.18" fill="#fbfbff"/>
<rect x="464.62" y="321.80" width="11.01" height="10.18" fill="#f7f7ff"/>
<rect x="474.93" y="321.80" width="11.01" height="10.18" fill="#f5f4ff"/>
<rect x="485.24" y="321.80" width="11.01" height="10.18" fill="#f7f7ff"/>
<rect x="495.55" y="321.80" width="11.01" height="10.18" fill="#f7f7ff"/>
<rect x="505.86" y="321.80" width="11.01" height="10.18" fill="#f9f9ff"/>
<rect x="516.17" y="321.80" width="11.01" height="10.18" fill="#f7f7ff"/>
<rect x="526.48" y="321.80" width="11.01" height="10.18" fill="#f7f7ff"/>
<rect x="536.79" y="321.80" width="10.31" height="10.18" fill="#f9f9ff"/>
<rect x="330.60" y="331.29" width="11.01" height="10.18" fill="#fff0f0"/>
<rect x="340.91" y="331.29" width="11.01" height="10.18" fill="#efeeff"/>
<rect x="351.22" y="331.29" width="11.01" height="10.18" fill="#fff4f4"/>
<rect x="361.53" y="331.29" width="11.01" height="10.18" fill="#f7f7ff"/>
<rect x="371.84" y="331.29" width="11.01" height="10.18" fill="#f3f2ff"/>
<rect x="382.15" y="331.29" width="11.01" height="10.18" fill="#fdfdff"/>
<rect x="392.46" y="331.29" width="11.01" height="10.18" fill="#fbfbff"/>
<rect x="402.77" y="331.29" width="11.01" height="10.18" fill="#fdfdff"/>
<rect x="413.08" y="331.29" width="11.01" height="10.18" fill="#ffeeee"/>
<rect x="423.39" y="331.29" width="11.01" height="10.18" fill="#f7f7ff"/>
<rect x="433.70" y="331.29" width="11.01" height="10.18" fill="#f5f4ff"/>
<rect x="444.00" y="331.29" width="11.01" height="10.18" fill="#fff6f6"/>
<rect x="454.31" y="331.29" width="11.01" height="10.18" fill="#fbfbff"/>
<rect x="464.62" y="331.29" width="11.01" height="10.18" fill="#f7f7ff"/>
<rect x="474.93" y="331.29" width="11.01" height="10.18" fill="#fff4f4"/>
<rect x="485.24" y="331.29" width="11.01" height="10.18" fill="#fff2f2"/>
<rect x="495.55" y="331.29" width="11.01" height="10.18" fill="#fff4f4"/>
<rect x="505.86" y="331.29" width="11.01" height="10.18" fill="#f7f7ff"/>
<rect x="516.17" y="331.29" width="11.01" height="10.18" fill="#fff4f4"/>
<rect x="526.48" y="331.29" width="11.01" height="10.18" fill="#fff2f2"/>
<rect x="536.79" y="331.29" width="10.31" height="10.18" fill="#eaeaff"/>
<rect x="330.60" y="340.77" width="11.01" height="10.18" fill="#ffeeee"/>
<rect x="340.91" y="340.77" width="11.01" height="10.18" fill="#fff1f1"/>
<rect x="351.22" y="340.77" width="11.01" height="10.18" fill="#fff1f1"/>
<rect x="361.53" y="340.77" width="11.01" height="10.18" fill="#fff3f3"/>
<rect x="371.84" y="340.77" width="11.01" height="10.18" fill="#fff3f3"/>
<rect x="382.15" y="340.77" width="11.01" height="10.18" fill="#ffe2e2"/>
<rect x="392.46" y="340.77" width="11.01" height="10.18" fill="#ffe7e7"/>
<rect x="402.77" y="340.77" width="11.01" height="10.18" fill="#ffecec"/>
<rect x="413.08" y="340.77" width="11.01" height="10.18" fill="#fff1f1"/>
<rect x="423.39" y="340.77" width="11.01" height="10.18" fill="#ffeeee"/>
<rect x="433.70" y="340.77" width="11.01" height="10.18" fill="#fff3f3"/>
<rect x="444.00" y="340.77" width="11.01" height="10.18" fill="#fffafa"/>
<rect x="454.31" y="340.77" width="11.01" height="10.18" fill="#ffe7e7"/>
<rect x="464.62" y="340.77" width="11.01" height="10.18" fill="#fff1f1"/>
<rect x="474.93" y="340.77" width="11.01" height="10.18" fill="#fffafa"/>
<rect x="485.24" y="340.77" width="11.01" height="10.18" fill="#fff3f3"/>
<rect x="495.55" y="340.77" width="11.01" height="10.18" fill="#fff5f5"/>
<rect x="505.86" y="340.77" width="11.01" height="10.18" fill="#fff5f5"/>
<rect x="516.17" y="340.77" width="11.01" height="10.18" fill="#fff8f8"/>
<rect x="526.48" y="340.77" width="11.01" height="10.18" fill="#fff8f8"/>
<rect x="536.79" y="340.77" width="10.31" height="10.18" fill="#fff5f5"/>
<rect x="330.60" y="350.25" width="11.01" height="10.18" fill="#ffcac9"/>
<rect x="340.91" y="350.25" width="11.01" height="10.18" fill="#ffc3c2"/>
<rect x="351.22" y="350.25" width="11.01" height="10.18" fill="#ffc3c2"/>
<rect x="361.53" y="350.25" width="11.01" height="10.18" fill="#ffc8c7"/>
<rect x="371.84" y="350.25" width="11.01" height="10.18" fill="#ffcac9"/>
<rect x="382.15" y="350.25" width="11.01" height="10.18" fill="#ffb0ae"/>
<rect x="392.46" y="350.25" width="11.01" height="10.18" fill="#ffbfbd"/>
<rect x="402.77" y="350.25" width="11.01" height="10.18" fill="#ffbfbd"/>
<rect x="413.08" y="350.25" width="11.01" height="10.18" fill="#ffcac9"/>
<rect x="423.39" y="350.25" width="11.01" height="10.18" fill="#ffcac9"/>
<rect x="433.70" y="350.25" width="11.01" height="10.18" fill="#ffcac9"/>
<rect x="444.00" y="350.25" width="11.01" height="10.18" fill="#ffcfce"/>
<rect x="454.31" y="350.25" width="11.01" height="10.18" fill="#ffb7b5"/>
<rect x="464.62" y="350.25" width="11.01" height="10.18" fill="#ffc3c2"/>
<rect x="474.93" y="350.25" width="11.01" height="10.18" fill="#ffcfce"/>
<rect x="485.24" y="350.25" width="11.01" height="10.18" fill="#ffcfce"/>
<rect x="495.55" y="350.25" width="11.01" height="10.18" fill="#ffcfce"/>
<rect x="505.86" y="350.25" width="11.01" height="10.18" fill="#ffcfce"/>
<rect x="516.17" y="350.25" width="11.01" height="10.18" fill="#ffcfce"/>
<rect x="526.48" y="350.25" width="11.01" height="10.18" fill="#ffcfce"/>
<rect x="536.79" y="350.25" width="10.31" height="10.18" fill="#ffcfce"/>
<rect x="330.60" y="359.73" width="11.01" height="10.18" fill="#fbfbff"/>
<rect x="340.91" y="359.73" width="11.01" height="10.18" fill="#eaeaff"/>
<rect x="351.22" y="359.73" width="11.01" height="10.18" fill="#fbfbff"/>
<rect x="361.53" y="359.73" width="11.01" height="10.18" fill="#f1f0ff"/>
<rect x="371.84" y="359.73" width="11.01" height="10.18" fill="#efeeff"/>
<rect x="382.15" y="359.73" width="11.01" height="10.18" fill="#f5f4ff"/>
<rect x="392.46" y="359.73" width="11.01" height="10.18" fill="#f5f4ff"/>
<rect x="402.77" y="359.73" width="11.01" height="10.18" fill="#f5f4ff"/>
<rect x="413.08" y="359.73" width="11.01" height="10.18" fill="#fbfbff"/>
<rect x="423.39" y="359.73" width="11.01" height="10.18" fill="#f3f2ff"/>
<rect x="433.70" y="359.73" width="11.01" height="10.18" fill="#efeeff"/>
<rect x="444.00" y="359.73" width="11.01" height="10.18" fill="#fbfbff"/>
<rect x="454.31" y="359.73" width="11.01" height="10.18" fill="#f5f4ff"/>
<rect x="464.62" y="359.73" width="11.01" height="10.18" fill="#efeeff"/>
<rect x="474.93" y="359.73" width="11.01" height="10.18" fill="#fbfbff"/>
<rect x="485.24" y="359.73" width="11.01" height="10.18" fill="#fdfdff"/>
<rect x="495.55" y="359.73" width="11.01" height="10.18" fill="#ffffff"/>
<rect x="505.86" y="359.73" width="11.01" height="10.18" fill="#efeeff"/>
<rect x="516.17" y="359.73" width="11.01" height="10.18" fill="#ffffff"/>
<rect x="526.48" y="359.73" width="11.01" height="10.18" fill="#ffffff"/>
<rect x="536.79" y="359.73" width="10.31" height="10.18" fill="#efeeff"/>
<rect x="330.60" y="369.21" width="11.01" height="10.18" fill="#ffe7e7"/>
<rect x="340.91" y="369.21" width="11.01" height="10.18" fill="#ffe7e7"/>
<rect x="351.22" y="369.21" width="11.01" height="10.18" fill="#ffe7e7"/>
<rect x="361.53" y="369.21" width="11.01" height="10.18" fill="#ffeae9"/>
<rect x="371.84" y="369.21" width="11.01" height="10.18" fill="#ffeae9"/>
<rect x="382.15" y="369.21" width="11.01" height="10.18" fill="#ffdedd"/>
<rect x="392.46" y="369.21" width="11.01" height="10.18" fill="#ffe2e2"/>
<rect x="402.77" y="369.21" width="11.01" height="10.18" fill="#ffe2e2"/>
<rect x="413.08" y="369.21" width="11.01" height="10.18" fill="#ffecec"/>
<rect x="423.39" y="369.21" width="11.01" height="10.18" fill="#ffecec"/>
<rect x="433.70" y="369.21" width="11.01" height="10.18" fill="#ffecec"/>
<rect x="444.00" y="369.21" width="11.01" height="10.18" fill="#fff3f3"/>
<rect x="454.31" y="369.21" width="11.01" height="10.18" fill="#ffe2e2"/>
<rect x="464.62" y="369.21" width="11.01" height="10.18" fill="#ffeeee"/>
<rect x="474.93" y="369.21" width="11.01" height="10.18" fill="#fff5f5"/>
<rect x="485.24" y="369.21" width="11.01" height="10.18" fill="#ffeeee"/>
<rect x="495.55" y="369.21" width="11.01" height="10.18" fill="#ffeeee"/>
<rect x="505.86" y="369.21" width="11.01" height="10.18" fill="#fff1f1"/>
<rect x="516.17" y="369.21" width="11.01" height="10.18" fill="#fff3f3"/>
<rect x="526.48" y="369.21" width="11.01" height="10.18" fill="#fff5f5"/>
<rect x="536.79" y="369.21" width="10.31" height="10.18" fill="#fff1f1"/>
<rect x="330.60" y="378.69" width="11.01" height="10.18" fill="#ffcac9"/>
<rect x="340.91" y="378.69" width="11.01" height="10.18" fill="#ffbcba"/>
<rect x="351.22" y="378.69" width="11.01" height="10.18" fill="#ffbcba"/>
<rect x="361.53" y="378.69" width="11.01" height="10.18" fill="#ffbfbd"/>
<rect x="371.84" y="378.69" width="11.01" height="10.18" fill="#ffc3c2"/>
<rect x="382.15" y="378.69" width="11.01" height="10.18" fill="#ffa7a4"/>
<rect x="392.46" y="378.69" width="11.01" height="10.18" fill="#ffb7b5"/>
<rect x="402.77" y="378.69" width="11.01" height="10.18" fill="#ffb7b5"/>
<rect x="413.08" y="378.69" width="11.01" height="10.18" fill="#ffc3c2"/>
<rect x="423.39" y="378.69" width="11.01" height="10.18" fill="#ffc3c2"/>
<rect x="433.70" y="378.69" width="11.01" height="10.18" fill="#ffbfbd"/>
<rect x="444.00" y="378.69" width="11.01" height="10.18" fill="#ffcfce"/>
<rect x="454.31" y="378.69" width="11.01" height="10.18" fill="#ffb0ae"/>
<rect x="464.62" y="378.69" width="11.01" height="10.18" fill="#ffbfbd"/>
<rect x="474.93" y="378.69" width="11.01" height="10.18" fill="#ffcfce"/>
<rect x="485.24" y="378.69" width="11.01" height="10.18" fill="#ffcac9"/>
<rect x="495.55" y="378.69" width="11.01" height="10.18" fill="#ffcfce"/>
<rect x="505.86" y="378.69" width="11.01" height="10.18" fill="#ffcfce"/>
<rect x="516.17" y="378.69" width="11.01" height="10.18" fill="#ffd4d3"/>
<rect x="526.48" y="378.69" width="11.01" height="10.18" fill="#ffd4d3"/>
<rect x="536.79" y="378.69" width="10.31" height="10.18" fill="#ffd4d3"/>
<rect x="330.60" y="388.17" width="11.01" height="10.18" fill="#eaeaff"/>
<rect x="340.91" y="388.17" width="11.01" height="10.18" fill="#eaeaff"/>
<rect x="351.22" y="388.17" width="11.01" height="10.18" fill="#eaeaff"/>
<rect x="361.53" y="388.17" width="11.01" height="10.18" fill="#efeeff"/>
<rect x="371.84" y="388.17" width="11.01" height="10.18" fill="#efeeff"/>
<rect x="382.15" y="388.17" width="11.01" height="10.18" fill="#e0e0ff"/>
<rect x="392.46" y="388.17" width="11.01" height="10.18" fill="#e4e4ff"/>
<rect x="402.77" y="388.17" width="11.01" height="10.18" fill="#e6e6ff"/>
<rect x="413.08" y="388.17" width="11.01" height="10.18" fill="#efeeff"/>
<rect x="423.39" y="388.17" width="11.01" height="10.18" fill="#efeeff"/>
<rect x="433.70" y="388.17" width="11.01" height="10.18" fill="#efeeff"/>
<rect x="444.00" y="388.17" width="11.01" height="10.18" fill="#fdfdff"/>
<rect x="454.31" y="388.17" width="11.01" height="10.18" fill="#e0e0ff"/>
<rect x="464.62" y="388.17" width="11.01" height="10.18" fill="#f5f4ff"/>
<rect x="474.93" y="388.17" width="11.01" height="10.18" fill="#ffffff"/>
<rect x="485.24" y="388.17" width="11.01" height="10.18" fill="#efeeff"/>
<rect x="495.55" y="388.17" width="11.01" height="10.18" fill="#efeeff"/>
<rect x="505.86" y="388.17" width="11.01" height="10.18" fill="#f1f0ff"/>
<rect x="516.17" y="388.17" width="11.01" height="10.18" fill="#f3f2ff"/>
<rect x="526.48" y="388.17" width="11.01" height="10.18" fill="#f5f4ff"/>
<rect x="536.79" y="388.17" width="10.31" height="10.18" fill="#eaeaff"/>
<rect x="330.60" y="397.65" width="11.01" height="10.18" fill="#fff6f6"/>
<rect x="340.91" y="397.65" width="11.01" height="10.18" fill="#e6e6ff"/>
<rect x="351.22" y="397.65" width="11.01" height="10.18" fill="#fff6f6"/>
<rect x="361.53" y="397.65" width="11.01" height="10.18" fill="#f3f2ff"/>
<rect x="371.84" y="397.65" width="11.01" height="10.18" fill="#efeeff"/>
<rect x="382.15" y="397.65" width="11.01" height="10.18" fill="#f7f7ff"/>
<rect x="392.46" y="397.65" width="11.01" height="10.18" fill="#f7f7ff"/>
<rect x="402.77" y="397.65" width="11.01" height="10.18" fill="#f7f7ff"/>
<rect x="413.08" y="397.65" width="11.01" height="10.18" fill="#fff0f0"/>
<rect x="423.39" y="397.65" width="11.01" height="10.18" fill="#f5f4ff"/>
<rect x="433.70" y="397.65" width="11.01" height="10.18" fill="#f3f2ff"/>
<rect x="444.00" y="397.65" width="11.01" height="10.18" fill="#fff6f6"/>
<rect x="454.31" y="397.65" width="11.01" height="10.18" fill="#f9f9ff"/>
<rect x="464.62" y="397.65" width="11.01" height="10.18" fill="#f7f7ff"/>
<rect x="474.93" y="397.65" width="11.01" height="10.18" fill="#fff8f8"/>
<rect x="485.24" y="397.65" width="11.01" height="10.18" fill="#fff4f4"/>
<rect x="495.55" y="397.65" width="11.01" height="10.18" fill="#fff2f2"/>
<rect x="505.86" y="397.65" width="11.01" height="10.18" fill="#f7f7ff"/>
<rect x="516.17" y="397.65" width="11.01" height="10.18" fill="#fff2f2"/>
<rect x="526.48" y="397.65" width="11.01" height="10.18" fill="#fff0f0"/>
<rect x="536.79" y="397.65" width="10.31" height="10.18" fill="#eaeaff"/>
<rect x="330.60" y="407.13" width="11.01" height="10.18" fill="#fff6f6"/>
<rect x="340.91" y="407.13" width="11.01" height="10.18" fill="#f7f7ff"/>
<rect x="351.22" y="407.13" width="11.01" height="10.18" fill="#ffffff"/>
<rect x="361.53" y="407.13" width="11.01" height="10.18" fill="#f5f4ff"/>
<rect x="371.84" y="407.13" width="11.01" height="10.18" fill="#f5f4ff"/>
<rect x="382.15" y="407.13" width="11.01" height="10.18" fill="#f7f7ff"/>
<rect x="392.46" y="407.13" width="11.01" height="10.18" fill="#f7f7ff"/>
<rect x="402.77" y="407.13" width="11.01" height="10.18" fill="#f7f7ff"/>
<rect x="413.08" y="407.13" width="11.01" height="10.18" fill="#ffffff"/>
<rect x="423.39" y="407.13" width="11.01" height="10.18" fill="#f5f4ff"/>
<rect x="433.70" y="407.13" width="11.01" height="10.18" fill="#f5f4ff"/>
<rect x="444.00" y="407.13" width="11.01" height="10.18" fill="#fdfdff"/>
<rect x="454.31" y="407.13" width="11.01" height="10.18" fill="#fbfbff"/>
<rect x="464.62" y="407.13" width="11.01" height="10.18" fill="#f5f4ff"/>
<rect x="474.93" y="407.13" width="11.01" height="10.18" fill="#ffffff"/>
<rect x="485.24" y="407.13" width="11.01" height="10.18" fill="#ffffff"/>
<rect x="495.55" y="407.13" width="11.01" height="10.18" fill="#fffbfb"/>
<rect x="505.86" y="407.13" width="11.01" height="10.18" fill="#f5f4ff"/>
<rect x="516.17" y="407.13" width="11.01" height="10.18" fill="#fffbfb"/>
<rect x="526.48" y="407.13" width="11.01" height="10.18" fill="#fffbfb"/>
<rect x="536.79" y="407.13" width="10.31" height="10.18" fill="#f5f4ff"/>
<rect x="330.60" y="416.61" width="11.01" height="10.18" fill="#f1f0ff"/>
<rect x="340.91" y="416.61" width="11.01" height="10.18" fill="#fdfdff"/>
<rect x="351.22" y="416.61" width="11.01" height="10.18" fill="#efeeff"/>
<rect x="361.53" y="416.61" width="11.01" height="10.18" fill="#fdfdff"/>
<rect x="371.84" y="416.61" width="11.01" height="10.18" fill="#fdfdff"/>
<rect x="382.15" y="416.61" width="11.01" height="10.18" fill="#f3f2ff"/>
<rect x="392.46" y="416.61" width="11.01" height="10.18" fill="#f5f4ff"/>
<rect x="402.77" y="416.61" width="11.01" height="10.18" fill="#f5f4ff"/>
<rect x="413.08" y="416.61" width="11.01" height="10.18" fill="#f1f0ff"/>
<rect x="423.39" y="416.61" width="11.01" height="10.18" fill="#fdfdff"/>
<rect x="433.70" y="416.61" width="11.01" height="10.18" fill="#ffffff"/>
<rect x="444.00" y="416.61" width="11.01" height="10.18" fill="#f9f9ff"/>
<rect x="454.31" y="416.61" width="11.01" height="10.18" fill="#f7f7ff"/>
<rect x="464.62" y="416.61" width="11.01" height="10.18" fill="#ffffff"/>
<rect x="474.93" y="416.61" width="11.01" height="10.18" fill="#fbfbff"/>
<rect x="485.24" y="416.61" width="11.01" height="10.18" fill="#f1f0ff"/>
<rect x="495.55" y="416.61" width="11.01" height="10.18" fill="#f1f0ff"/>
<rect x="505.86" y="416.61" width="11.01" height="10.18" fill="#ffffff"/>
<rect x="516.17" y="416.61" width="11.01" height="10.18" fill="#f5f4ff"/>
<rect x="526.48" y="416.61" width="11.01" height="10.18" fill="#f5f4ff"/>
<rect x="536.79" y="416.61" width="10.31" height="10.18" fill="#ffffff"/>
<rect x="330.60" y="426.10" width="11.01" height="10.18" fill="#eaeaff"/>
<rect x="340.91" y="426.10" width="11.01" height="10.18" fill="#ffe9e9"/>
<rect x="351.22" y="426.10" width="11.01" height="10.18" fill="#f3f2ff"/>
<rect x="361.53" y="426.10" width="11.01" height="10.18" fill="#ffe9e9"/>
<rect x="371.84" y="426.10" width="11.01" height="10.18" fill="#ffe9e9"/>
<rect x="382.15" y="426.10" width="11.01" height="10.18" fill="#f5f4ff"/>
<rect x="392.46" y="426.10" width="11.01" height="10.18" fill="#fbfbff"/>
<rect x="402.77" y="426.10" width="11.01" height="10.18" fill="#fbfbff"/>
<rect x="413.08" y="426.10" width="11.01" height="10.18" fill="#f3f2ff"/>
<rect x="423.39" y="426.10" width="11.01" height="10.18" fill="#ffe9e9"/>
<rect x="433.70" y="426.10" width="11.01" height="10.18" fill="#ffeeee"/>
<rect x="444.00" y="426.10" width="11.01" height="10.18" fill="#fff2f2"/>
<rect x="454.31" y="426.10" width="11.01" height="10.18" fill="#f9f9ff"/>
<rect x="464.62" y="426.10" width="11.01" height="10.18" fill="#ffe9e9"/>
<rect x="474.93" y="426.10" width="11.01" height="10.18" fill="#fff4f4"/>
<rect x="485.24" y="426.10" width="11.01" height="10.18" fill="#f5f4ff"/>
<rect x="495.55" y="426.10" width="11.01" height="10.18" fill="#f5f4ff"/>
<rect x="505.86" y="426.10" width="11.01" height="10.18" fill="#ffe5e5"/>
<rect x="516.17" y="426.10" width="11.01" height="10.18" fill="#f7f7ff"/>
<rect x="526.48" y="426.10" width="11.01" height="10.18" fill="#f7f7ff"/>
<rect x="536.79" y="426.10" width="10.31" height="10.18" fill="#ffe9e9"/>
<rect x="330.60" y="435.58" width="11.01" height="10.18" fill="#ffffff"/>
<rect x="340.91" y="435.58" width="11.01" height="10.18" fill="#ffffff"/>
<rect x="351.22" y="435.58" width="11.01" height="10.18" fill="#fdfdff"/>
<rect x="361.53" y="435.58" width="11.01" height="10.18" fill="#fdfdff"/>
<rect x="371.84" y="435.58" width="11.01" height="10.18" fill="#fbfbff"/>
<rect x="382.15" y="435.58" width="11.01" height="10.18" fill="#ffffff"/>
<rect x="392.46" y="435.58" width="11.01" height="10.18" fill="#ffffff"/>
<rect x="402.77" y="435.58" width="11.01" height="10.18" fill="#ffffff"/>
<rect x="413.08" y="435.58" width="11.01" height="10.18" fill="#fbfbff"/>
<rect x="423.39" y="435.58" width="11.01" height="10.18" fill="#fbfbff"/>
<rect x="433.70" y="435.58" width="11.01" height="10.18" fill="#fdfdff"/>
<rect x="444.00" y="435.58" width="11.01" height="10.18" fill="#f9f9ff"/>
<rect x="454.31" y="435.58" width="11.01" height="10.18" fill="#ffffff"/>
<rect x="464.62" y="435.58" width="11.01" height="10.18" fill="#fdfdff"/>
<rect x="474.93" y="435.58" width="11.01" height="10.18" fill="#f5f4ff"/>
<rect x="485.24" y="435.58" width="11.01" height="10.18" fill="#fdfdff"/>
<rect x="495.55" y="435.58" width="11.01" height="10.18" fill="#fdfdff"/>
<rect x="505.86" y="435.58" width="11.01" height="10.18" fill="#fdfdff"/>
<rect x="516.17" y="435.58" width="11.01" height="10.18" fill="#fdfdff"/>
<rect x="526.48" y="435.58" width="11.01" height="10.18" fill="#fdfdff"/>
<rect x="536.79" y="435.58" width="10.31" height="10.18" fill="#ffffff"/>
<rect x="330.60" y="445.06" width="11.01" height="10.18" fill="#fffbfb"/>
<rect x="340.91" y="445.06" width="11.01" height="10.18" fill="#ffffff"/>
<rect x="351.22" y="445.06" width="11.01" height="10.18" fill="#fdfdff"/>
<rect x="361.53" y="445.06" width="11.01" height="10.18" fill="#fdfdff"/>
<rect x="371.84" y="445.06" width="11.01" height="10.18" fill="#ffffff"/>
<rect x="382.15" y="445.06" width="11.01" height="10.18" fill="#ffffff"/>
<rect x="392.46" y="445.06" width="11.01" height="10.18" fill="#ffffff"/>
<rect x="402.77" y="445.06" width="11.01" height="10.18" fill="#ffffff"/>
<rect x="413.08" y="445.06" width="11.01" height="10.18" fill="#fbfbff"/>
<rect x="423.39" y="445.06" width="11.01" height="10.18" fill="#fbfbff"/>
<rect x="433.70" y="445.06" width="11.01" height="10.18" fill="#fbfbff"/>
<rect x="444.00" y="445.06" width="11.01" height="10.18" fill="#f9f9ff"/>
<rect x="454.31" y="445.06" width="11.01" height="10.18" fill="#ffffff"/>
<rect x="464.62" y="445.06" width="11.01" height="10.18" fill="#fbfbff"/>
<rect x="474.93" y="445.06" width="11.01" height="10.18" fill="#f9f9ff"/>
<rect x="485.24" y="445.06" width="11.01" height="10.18" fill="#fdfdff"/>
<rect x="495.55" y="445.06" width="11.01" height="10.18" fill="#ffffff"/>
<rect x="505.86" y="445.06" width="11.01" height="10.18" fill="#fdfdff"/>
<rect x="516.17" y="445.06" width="11.01" height="10.18" fill="#fdfdff"/>
<rect x="526.48" y="445.06" width="11.01" height="10.18" fill="#fdfdff"/>
<rect x="536.79" y="445.06" width="10.31" height="10.18" fill="#ffffff"/>
<rect x="330.60" y="454.54" width="11.01" height="10.18" fill="#ffeeee"/>
<rect x="340.91" y="454.54" width="11.01" height="10.18" fill="#ffeeee"/>
<rect x="351.22" y="454.54" width="11.01" height="10.18" fill="#ffeeee"/>
<rect x="361.53" y="454.54" width="11.01" height="10.18" fill="#ffecec"/>
<rect x="371.84" y="454.54" width="11.01" height="10.18" fill="#ffeae9"/>
<rect x="382.15" y="454.54" width="11.01" height="10.18" fill="#ffe7e7"/>
<rect x="392.46" y="454.54" width="11.01" height="10.18" fill="#ffe7e7"/>
<rect x="402.77" y="454.54" width="11.01" height="10.18" fill="#ffe7e7"/>
<rect x="413.08" y="454.54" width="11.01" height="10.18" fill="#ffeeee"/>
<rect x="423.39" y="454.54" width="11.01" height="10.18" fill="#fff1f1"/>
<rect x="433.70" y="454.54" width="11.01" height="10.18" fill="#ffeeee"/>
<rect x="444.00" y="454.54" width="11.01" height="10.18" fill="#fff3f3"/>
<rect x="454.31" y="454.54" width="11.01" height="10.18" fill="#ffe7e7"/>
<rect x="464.62" y="454.54" width="11.01" height="10.18" fill="#ffecec"/>
<rect x="474.93" y="454.54" width="11.01" height="10.18" fill="#fff5f5"/>
<rect x="485.24" y="454.54" width="11.01" height="10.18" fill="#ffeeee"/>
<rect x="495.55" y="454.54" width="11.01" height="10.18" fill="#ffeeee"/>
<rect x="505.86" y="454.54" width="11.01" height="10.18" fill="#fff1f1"/>
<rect x="516.17" y="454.54" width="11.01" height="10.18" fill="#fff1f1"/>
<rect x="526.48" y="454.54" width="11.01" height="10.18" fill="#fff3f3"/>
<rect x="536.79" y="454.54" width="10.31" height="10.18" fill="#fff1f1"/>
<rect x="330.60" y="464.02" width="11.01" height="9.48" fill="#fff4f4"/>
<rect x="340.91" y="464.02" width="11.01" height="9.48" fill="#fff8f8"/>
<rect x="351.22" y="464.02" width="11.01" height="9.48" fill="#fff8f8"/>
<rect x="361.53" y="464.02" width="11.01" height="9.48" fill="#fff8f8"/>
<rect x="371.84" y="464.02" width="11.01" height="9.48" fill="#fff8f8"/>
<rect x="382.15" y="464.02" width="11.01" height="9.48" fill="#fff6f6"/>
<rect x="392.46" y="464.02" width="11.01" height="9.48" fill="#fff6f6"/>
<rect x="402.77" y="464.02" width="11.01" height="9.48" fill="#fff6f6"/>
<rect x="413.08" y="464.02" width="11.01" height="9.48" fill="#fffbfb"/>
<rect x="423.39" y="464.02" width="11.01" height="9.48" fill="#fffbfb"/>
<rect x="433.70" y="464.02" width="11.01" height="9.48" fill="#fff6f6"/>
<rect x="444.00" y="464.02" width="11.01" height="9.48" fill="#fffbfb"/>
<rect x="454.31" y="464.02" width="11.01" height="9.48" fill="#fff4f4"/>
<rect x="464.62" y="464.02" width="11.01" height="9.48" fill="#fff6f6"/>
<rect x="474.93" y="464.02" width="11.01" height="9.48" fill="#fffbfb"/>
<rect x="485.24" y="464.02" width="11.01" height="9.48" fill="#fff8f8"/>
<rect x="495.55" y="464.02" width="11.01" height="9.48" fill="#fff8f8"/>
<rect x="505.86" y="464.02" width="11.01" height="9.48" fill="#fff8f8"/>
<rect x="516.17" y="464.02" width="11.01" height="9.48" fill="#fff8f8"/>
<rect x="526.48" y="464.02" width="11.01" height="9.48" fill="#fff8f8"/>
<rect x="536.79" y="464.02" width="10.31" height="9.48" fill="#fff6f6"/>
<line x1="330.60" y1="274.40" x2="547.10" y2="274.40" stroke="#111" stroke-width="1.3"/>
<line x1="330.60" y1="273.80" x2="330.60" y2="474.10" stroke="#111" stroke-width="1.3"/>
<line x1="547.10" y1="273.80" x2="547.10" y2="474.10" stroke="#555" stroke-width="1.30"/>
<line x1="330.60" y1="473.50" x2="547.10" y2="473.50" stroke="#333" stroke-width="1.30"/>
<text x="324.40" y="279.54" font-size="8.2" font-weight="bold" text-anchor="middle" dominant-baseline="central">A</text>
<text x="324.40" y="289.02" font-size="8.2" font-weight="bold" text-anchor="middle" dominant-baseline="central">C</text>
<text x="324.40" y="298.50" font-size="8.2" font-weight="bold" text-anchor="middle" dominant-baseline="central">D</text>
<text x="324.40" y="307.98" font-size="8.2" font-weight="bold" text-anchor="middle" dominant-baseline="central">E</text>
<text x="324.40" y="317.46" font-size="8.2" font-weight="bold" text-anchor="middle" dominant-baseline="central">F</text>
<text x="324.40" y="326.95" font-size="8.2" font-weight="bold" text-anchor="middle" dominant-baseline="central">G</text>
<text x="324.40" y="336.43" font-size="8.2" font-weight="bold" text-anchor="middle" dominant-baseline="central">H</text>
<text x="324.40" y="345.91" font-size="8.2" font-weight="bold" text-anchor="middle" dominant-baseline="central">I</text>
<text x="324.40" y="355.39" font-size="8.2" font-weight="bold" text-anchor="middle" dominant-baseline="central">K</text>
<text x="324.40" y="364.87" font-size="8.2" font-weight="bold" text-anchor="middle" dominant-baseline="central">L</text>
<text x="324.40" y="374.35" font-size="8.2" font-weight="bold" text-anchor="middle" dominant-baseline="central">M</text>
<text x="324.40" y="383.83" font-size="8.2" font-weight="bold" text-anchor="middle" dominant-baseline="central">N</text>
<text x="324.40" y="393.31" font-size="8.2" font-weight="bold" text-anchor="middle" dominant-baseline="central">P</text>
<text x="324.40" y="402.79" font-size="8.2" font-weight="bold" text-anchor="middle" dominant-baseline="central">Q</text>
<text x="324.40" y="412.27" font-size="8.2" font-weight="bold" text-anchor="middle" dominant-baseline="central">R</text>
<text x="324.40" y="421.75" font-size="8.2" font-weight="bold" text-anchor="middle" dominant-baseline="central">S</text>
<text x="324.40" y="431.24" font-size="8.2" font-weight="bold" text-anchor="middle" dominant-baseline="central">T</text>
<text x="324.40" y="440.72" font-size="8.2" font-weight="bold" text-anchor="middle" dominant-baseline="central">V</text>
<text x="324.40" y="450.20" font-size="8.2" font-weight="bold" text-anchor="middle" dominant-baseline="central">W</text>
<text x="324.40" y="459.68" font-size="8.2" font-weight="bold" text-anchor="middle" dominant-baseline="central">Y</text>
<text x="324.40" y="469.16" font-size="8.2" font-weight="bold" text-anchor="middle" dominant-baseline="central">q</text>
<text x="335.75" y="481.50" font-size="8" font-weight="bold" text-anchor="middle" dominant-baseline="central">1</text>
<text x="346.06" y="481.50" font-size="8" font-weight="bold" text-anchor="middle" dominant-baseline="central">2</text>
<text x="356.37" y="481.50" font-size="8" font-weight="bold" text-anchor="middle" dominant-baseline="central">3</text>
<text x="366.68" y="481.50" font-size="8" font-weight="bold" text-anchor="middle" dominant-baseline="central">4</text>
<text x="376.99" y="481.50" font-size="8" font-weight="bold" text-anchor="middle" dominant-baseline="central">5</text>
<text x="387.30" y="481.50" font-size="8" font-weight="bold" text-anchor="middle" dominant-baseline="central">6</text>
<text x="397.61" y="481.50" font-size="8" font-weight="bold" text-anchor="middle" dominant-baseline="central">7</text>
<text x="407.92" y="481.50" font-size="8" font-weight="bold" text-anchor="middle" dominant-baseline="central">8</text>
<text x="418.23" y="481.50" font-size="8" font-weight="bold" text-anchor="middle" dominant-baseline="central">9</text>
<text x="428.54" y="481.50" font-size="8" font-weight="bold" text-anchor="middle" dominant-baseline="central">10</text>
<text x="438.85" y="481.50" font-size="8" font-weight="bold" text-anchor="middle" dominant-baseline="central">11</text>
<text x="449.16" y="481.50" font-size="8" font-weight="bold" text-anchor="middle" dominant-baseline="central">12</text>
<text x="459.47" y="481.50" font-size="8" font-weight="bold" text-anchor="middle" dominant-baseline="central">13</text>
<text x="469.78" y="481.50" font-size="8" font-weight="bold" text-anchor="middle" dominant-baseline="central">14</text>
<text x="480.09" y="481.50" font-size="8" font-weight="bold" text-anchor="middle" dominant-baseline="central">15</text>
<text x="490.40" y="481.50" font-size="8" font-weight="bold" text-anchor="middle" dominant-baseline="central">16</text>
<text x="500.71" y="481.50" font-size="8" font-weight="bold" text-anchor="middle" dominant-baseline="central">17</text>
<text x="511.02" y="481.50" font-size="8" font-weight="bold" text-anchor="middle" dominant-baseline="central">18</text>
<text x="521.33" y="481.50" font-size="8" font-weight="bold" text-anchor="middle" dominant-baseline="central">19</text>
<text x="531.64" y="481.50" font-size="8" font-weight="bold" text-anchor="middle" dominant-baseline="central">20</text>
<text x="541.95" y="481.50" font-size="8" font-weight="bold" text-anchor="middle" dominant-baseline="central">21</text>
<text x="438.85" y="493.00" font-size="7.7" font-weight="bold" text-anchor="middle" dominant-baseline="central">amino acid position</text>
<text x="437.80" y="265.90" font-size="8.9" font-weight="bold" text-anchor="middle" dominant-baseline="central">pSD pIII-VHH_21mer</text>
<text transform="translate(313.20,372.45) rotate(-90)" font-size="7.8" font-weight="bold" text-anchor="middle" dominant-baseline="central">amino acids</text>
<text x="301.40" y="291.20" font-size="12.2" font-weight="bold" style="stroke-width:0.35px">e</text>
<defs><linearGradient id="ge" x1="0" y1="0" x2="0" y2="1">
<stop offset="0.000" stop-color="#ff2600"/>
<stop offset="0.050" stop-color="#ff3c24"/>
<stop offset="0.100" stop-color="#ff5141"/>
<stop offset="0.150" stop-color="#ff675c"/>
<stop offset="0.200" stop-color="#ff7d75"/>
<stop offset="0.250" stop-color="#ff928d"/>
<stop offset="0.300" stop-color="#ffa8a5"/>
<stop offset="0.350" stop-color="#ffbebc"/>
<stop offset="0.400" stop-color="#ffd4d3"/>
<stop offset="0.450" stop-color="#ffe9e9"/>
<stop offset="0.500" stop-color="#ffffff"/>
<stop offset="0.550" stop-color="#eaeaff"/>
<stop offset="0.600" stop-color="#d6d5ff"/>
<stop offset="0.650" stop-color="#c0c0ff"/>
<stop offset="0.700" stop-color="#aaabff"/>
<stop offset="0.750" stop-color="#9496ff"/>
<stop offset="0.800" stop-color="#7d81ff"/>
<stop offset="0.850" stop-color="#656cff"/>
<stop offset="0.900" stop-color="#4c57ff"/>
<stop offset="0.950" stop-color="#3142ff"/>
<stop offset="1.000" stop-color="#0f2dff"/>
</linearGradient></defs>
<rect x="556.10" y="274.20" width="9.30" height="199.10" fill="url(#ge)" stroke="#444" stroke-width="0.9"/>
<line x1="556.10" y1="307.38" x2="557.70" y2="307.38" stroke="#222" stroke-width="0.9"/>
<line x1="563.80" y1="307.38" x2="565.40" y2="307.38" stroke="#222" stroke-width="0.9"/>
<text x="568.60" y="307.73" font-size="8.30" dominant-baseline="central" style="stroke-width:0.22px">2</text>
<line x1="556.10" y1="373.75" x2="557.70" y2="373.75" stroke="#222" stroke-width="0.9"/>
<line x1="563.80" y1="373.75" x2="565.40" y2="373.75" stroke="#222" stroke-width="0.9"/>
<text x="568.60" y="374.10" font-size="8.30" dominant-baseline="central" style="stroke-width:0.22px">0</text>
<line x1="556.10" y1="440.12" x2="557.70" y2="440.12" stroke="#222" stroke-width="0.9"/>
<line x1="563.80" y1="440.12" x2="565.40" y2="440.12" stroke="#222" stroke-width="0.9"/>
<text x="568.60" y="440.47" font-size="8.30" dominant-baseline="central" style="stroke-width:0.22px">-2</text>
</svg>
</body></html>
